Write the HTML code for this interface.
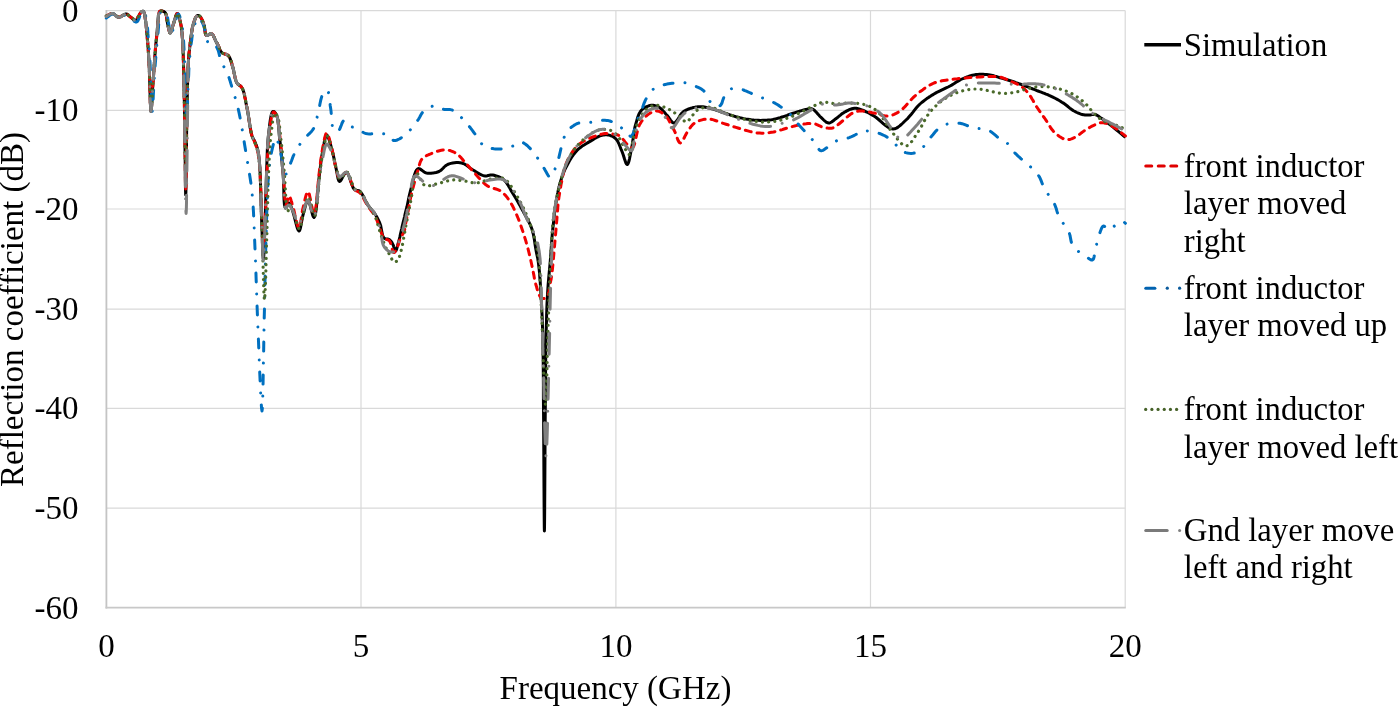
<!DOCTYPE html>
<html><head><meta charset="utf-8"><title>Reflection coefficient chart</title>
<style>html,body{margin:0;padding:0;background:#fff;}body{width:1400px;height:710px;overflow:hidden;}svg{display:block;will-change:transform;}</style>
</head><body>
<svg width="1400" height="710" viewBox="0 0 1400 710">
<rect width="1400" height="710" fill="#fff"/>
<line x1="106.4" y1="10.6" x2="1125.2" y2="10.6" stroke="#d9d9d9" stroke-width="1.2"/>
<line x1="106.4" y1="110.3" x2="1125.2" y2="110.3" stroke="#d9d9d9" stroke-width="1.2"/>
<line x1="106.4" y1="209.0" x2="1125.2" y2="209.0" stroke="#d9d9d9" stroke-width="1.2"/>
<line x1="106.4" y1="309.2" x2="1125.2" y2="309.2" stroke="#d9d9d9" stroke-width="1.2"/>
<line x1="106.4" y1="408.4" x2="1125.2" y2="408.4" stroke="#d9d9d9" stroke-width="1.2"/>
<line x1="106.4" y1="508.1" x2="1125.2" y2="508.1" stroke="#d9d9d9" stroke-width="1.2"/>
<line x1="361.0" y1="10.6" x2="361.0" y2="607.6" stroke="#d9d9d9" stroke-width="1.2"/>
<line x1="615.9" y1="10.6" x2="615.9" y2="607.6" stroke="#d9d9d9" stroke-width="1.2"/>
<line x1="870.5" y1="10.6" x2="870.5" y2="607.6" stroke="#d9d9d9" stroke-width="1.2"/>
<line x1="1125.2" y1="10.6" x2="1125.2" y2="607.6" stroke="#d9d9d9" stroke-width="1.2"/>
<line x1="106.4" y1="10.0" x2="106.4" y2="608.5" stroke="#c4c4c4" stroke-width="1.8"/>
<line x1="105.5" y1="607.6" x2="1125.8" y2="607.6" stroke="#c8c8c8" stroke-width="1.8"/>
<text x="78.4" y="21.6" text-anchor="end" style="font-family:'Liberation Serif',serif;font-size:33px;fill:#000">0</text>
<text x="78.4" y="121.3" text-anchor="end" style="font-family:'Liberation Serif',serif;font-size:33px;fill:#000">-10</text>
<text x="78.4" y="220.0" text-anchor="end" style="font-family:'Liberation Serif',serif;font-size:33px;fill:#000">-20</text>
<text x="78.4" y="320.2" text-anchor="end" style="font-family:'Liberation Serif',serif;font-size:33px;fill:#000">-30</text>
<text x="78.4" y="419.4" text-anchor="end" style="font-family:'Liberation Serif',serif;font-size:33px;fill:#000">-40</text>
<text x="78.4" y="519.1" text-anchor="end" style="font-family:'Liberation Serif',serif;font-size:33px;fill:#000">-50</text>
<text x="78.4" y="618.7" text-anchor="end" style="font-family:'Liberation Serif',serif;font-size:33px;fill:#000">-60</text>
<text x="106.4" y="657" text-anchor="middle" style="font-family:'Liberation Serif',serif;font-size:33px;fill:#000">0</text>
<text x="361.0" y="657" text-anchor="middle" style="font-family:'Liberation Serif',serif;font-size:33px;fill:#000">5</text>
<text x="615.9" y="657" text-anchor="middle" style="font-family:'Liberation Serif',serif;font-size:33px;fill:#000">10</text>
<text x="870.5" y="657" text-anchor="middle" style="font-family:'Liberation Serif',serif;font-size:33px;fill:#000">15</text>
<text x="1125.2" y="657" text-anchor="middle" style="font-family:'Liberation Serif',serif;font-size:33px;fill:#000">20</text>
<text x="615.5" y="699" text-anchor="middle" style="font-family:'Liberation Serif',serif;font-size:33px;fill:#000">Frequency (GHz)</text>
<text transform="translate(23,309.5) rotate(-90)" text-anchor="middle" style="font-family:'Liberation Serif',serif;font-size:33px;fill:#000">Reflection coefficient (dB)</text>
<g fill="none" stroke-linejoin="round">
<path d="M106.3,16.5 107.1,16.1 107.9,15.6 108.7,15.1 109.5,14.6 110.3,14.1 111.1,13.8 111.9,13.5 112.7,13.5 113.5,13.7 114.2,14.1 114.9,14.7 115.6,15.4 116.3,16.1 117.1,16.7 117.8,17.1 118.6,17.3 119.5,17.2 120.5,16.8 121.5,16.3 122.5,15.6 123.5,15.0 124.4,14.5 125.4,14.1 126.2,14.0 126.8,14.1 127.3,14.4 127.9,14.7 128.4,15.1 128.9,15.6 129.4,16.0 129.9,16.5 130.4,16.9 131.0,17.4 131.7,18.0 132.3,18.6 133.0,19.2 133.6,19.8 134.3,20.2 134.9,20.5 135.5,20.5 136.2,20.1 136.9,19.4 137.6,18.3 138.2,17.1 138.9,15.8 139.5,14.6 140.1,13.6 140.6,12.8 140.9,12.5 141.1,12.3 141.4,12.0 141.6,11.8 141.8,11.6 142.1,11.5 142.3,11.4 142.5,11.3 142.6,11.3 142.8,11.2 142.9,11.2 143.1,11.2 143.2,11.3 143.3,11.3 143.5,11.4 143.6,11.5 143.9,12.0 144.2,12.9 144.5,14.0 144.8,15.2 145.0,16.6 145.2,18.1 145.4,19.6 145.6,21.0 145.9,22.9 146.1,24.8 146.3,26.9 146.5,29.0 146.7,31.2 146.9,33.4 147.1,35.7 147.3,38.0 147.5,40.7 147.8,43.5 148.0,46.3 148.2,49.2 148.4,52.2 148.6,55.3 148.8,58.6 149.0,62.0 149.3,68.0 149.5,75.4 149.8,83.6 150.0,91.8 150.2,99.4 150.5,105.7 150.7,109.9 151.0,111.5 151.2,110.6 151.5,108.0 151.8,104.3 152.1,99.6 152.4,94.5 152.6,89.3 152.9,84.3 153.2,80.0 153.5,76.3 153.7,72.5 154.0,68.7 154.2,65.0 154.5,61.3 154.8,57.7 155.0,54.1 155.3,50.7 155.5,47.9 155.8,45.1 156.0,42.4 156.3,39.7 156.6,37.1 156.8,34.6 157.1,32.1 157.3,29.6 157.5,27.4 157.6,25.2 157.8,23.0 158.0,20.9 158.1,18.8 158.3,16.9 158.5,15.3 158.8,14.0 158.9,13.5 159.0,13.1 159.1,12.6 159.3,12.3 159.4,11.9 159.6,11.6 159.8,11.4 160.0,11.2 160.3,11.1 160.6,11.0 161.0,10.9 161.4,10.9 161.8,10.9 162.2,11.0 162.6,11.1 163.0,11.2 163.3,11.3 163.7,11.5 164.0,11.6 164.3,11.8 164.7,12.0 165.0,12.3 165.2,12.6 165.5,13.0 165.9,13.9 166.2,15.0 166.5,16.4 166.7,17.8 166.9,19.3 167.1,20.9 167.3,22.3 167.6,23.7 167.9,25.0 168.2,26.5 168.5,28.1 168.8,29.5 169.2,30.9 169.5,32.0 169.8,32.7 170.2,33.0 170.6,32.7 171.0,32.0 171.4,30.9 171.8,29.6 172.2,28.0 172.6,26.5 173.1,25.0 173.5,23.7 174.0,22.3 174.4,20.7 174.9,19.0 175.4,17.3 175.9,15.8 176.4,14.6 176.8,13.8 177.3,13.5 177.8,13.8 178.2,14.6 178.7,15.8 179.1,17.2 179.6,18.8 180.0,20.5 180.4,22.2 180.7,23.7 181.0,25.3 181.3,26.8 181.5,28.4 181.7,30.0 181.9,31.7 182.1,33.6 182.2,35.7 182.4,38.0 182.8,44.3 183.1,52.0 183.4,60.7 183.7,70.2 183.9,80.1 184.1,90.3 184.3,100.3 184.5,110.0 184.7,121.4 184.9,134.7 185.0,148.8 185.2,162.7 185.3,175.3 185.4,185.5 185.6,192.5 185.7,195.0 185.9,192.4 186.0,185.2 186.1,174.6 186.3,161.7 186.5,147.7 186.6,133.7 186.8,120.7 187.0,110.0 187.2,102.9 187.3,96.0 187.4,89.2 187.6,82.6 187.8,76.3 188.0,70.4 188.2,65.0 188.5,60.0 188.7,57.3 188.9,54.8 189.1,52.6 189.4,50.4 189.6,48.3 189.9,46.2 190.1,44.2 190.4,42.0 190.7,39.9 190.9,37.7 191.2,35.5 191.5,33.4 191.8,31.2 192.1,29.2 192.5,27.2 193.0,25.4 193.4,23.9 193.9,22.4 194.4,20.8 194.9,19.4 195.4,18.0 196.0,16.9 196.6,16.1 197.2,15.6 197.5,15.5 197.9,15.5 198.2,15.5 198.6,15.6 199.0,15.8 199.3,16.0 199.7,16.2 200.0,16.5 200.6,17.1 201.1,18.0 201.7,19.0 202.2,20.1 202.7,21.3 203.1,22.6 203.6,23.8 204.0,25.0 204.4,26.3 204.6,27.9 204.8,29.5 205.0,31.1 205.2,32.6 205.5,33.9 205.8,34.9 206.4,35.5 206.9,35.6 207.5,35.4 208.2,35.1 208.9,34.6 209.6,34.1 210.3,33.8 210.9,33.6 211.5,33.6 212.2,34.1 212.8,34.8 213.4,35.8 214.0,37.0 214.5,38.3 215.1,39.5 215.5,40.6 216.0,41.5 216.3,42.0 216.5,42.4 216.8,42.9 217.0,43.3 217.3,43.6 217.5,44.1 217.7,44.5 218.0,45.0 218.4,45.8 218.8,46.7 219.1,47.7 219.5,48.8 220.0,49.8 220.4,50.8 221.0,51.6 221.6,52.4 222.3,53.0 223.1,53.4 224.0,53.7 225.0,54.0 225.9,54.2 226.8,54.6 227.7,55.1 228.4,55.7 229.2,56.8 229.9,58.1 230.5,59.6 231.1,61.2 231.6,62.9 232.0,64.6 232.5,66.3 233.0,68.0 233.5,69.8 233.9,71.8 234.3,73.8 234.7,75.9 235.1,77.8 235.6,79.7 236.1,81.4 236.8,82.8 237.4,83.6 238.0,84.2 238.7,84.8 239.4,85.2 240.1,85.7 240.8,86.3 241.4,87.0 242.0,87.8 242.9,89.6 243.6,91.7 244.3,94.1 244.8,96.8 245.4,99.5 245.9,102.4 246.4,105.2 247.0,108.0 247.7,111.4 248.3,115.2 248.9,119.1 249.5,123.0 250.0,126.8 250.7,130.4 251.3,133.5 252.0,136.0 252.4,137.0 252.7,137.8 253.1,138.5 253.5,139.2 253.9,139.8 254.3,140.5 254.6,141.2 255.0,142.0 255.5,143.1 255.9,144.3 256.4,145.4 256.8,146.6 257.2,148.0 257.6,149.5 258.0,151.1 258.4,153.0 259.2,159.1 259.8,167.2 260.3,176.5 260.6,186.7 260.9,197.2 261.2,207.4 261.5,216.8 261.8,225.0 262.0,230.3 262.2,236.0 262.4,241.7 262.6,247.0 262.8,251.8 263.0,255.6 263.2,258.1 263.4,259.0 263.6,258.0 263.8,255.4 264.0,251.4 264.2,246.5 264.4,241.1 264.6,235.4 264.8,229.9 265.0,225.0 265.2,219.7 265.3,214.2 265.5,208.6 265.6,202.9 265.8,197.2 265.9,191.4 266.1,185.7 266.3,180.0 266.5,174.3 266.7,168.4 266.9,162.5 267.1,156.6 267.3,150.8 267.6,145.2 268.0,139.9 268.5,135.0 268.9,131.4 269.4,127.5 269.8,123.7 270.3,120.0 270.9,116.7 271.5,114.1 272.2,112.2 273.0,111.4 273.4,111.4 273.8,111.5 274.3,111.8 274.7,112.3 275.2,112.8 275.6,113.4 276.0,114.1 276.4,114.8 277.1,116.7 277.7,119.2 278.1,122.2 278.5,125.4 278.8,128.9 279.1,132.5 279.4,136.1 279.8,139.6 280.3,143.8 280.7,148.2 281.2,152.7 281.6,157.3 282.0,162.0 282.4,166.7 282.8,171.2 283.2,175.7 283.5,180.2 283.7,185.3 283.8,190.6 283.9,195.8 284.1,200.5 284.4,204.3 284.9,206.9 285.5,208.0 285.8,207.8 286.2,207.3 286.6,206.5 287.1,205.6 287.5,204.6 288.0,203.8 288.4,203.2 288.8,203.0 289.2,203.2 289.7,203.7 290.1,204.4 290.5,205.2 290.9,206.3 291.3,207.4 291.8,208.5 292.2,209.6 293.0,212.0 293.9,215.1 294.8,218.6 295.7,222.2 296.6,225.6 297.4,228.4 298.3,230.3 299.0,231.0 299.6,230.5 300.1,229.2 300.6,227.3 301.0,224.9 301.5,222.3 302.0,219.7 302.5,217.2 303.0,215.0 303.6,212.9 304.2,210.6 304.8,208.2 305.4,205.9 306.0,203.8 306.7,202.1 307.3,200.9 308.0,200.5 308.7,201.2 309.5,203.2 310.3,205.9 311.1,209.1 311.9,212.2 312.6,214.9 313.3,216.8 314.0,217.5 314.9,216.1 315.7,212.6 316.4,207.3 317.0,201.0 317.6,194.2 318.2,187.3 318.7,181.0 319.3,175.7 319.7,172.3 320.2,168.9 320.5,165.7 320.9,162.6 321.3,159.6 321.7,156.6 322.2,153.8 322.7,151.0 323.1,148.6 323.6,146.0 324.1,143.3 324.5,140.8 325.1,138.5 325.6,136.7 326.1,135.5 326.7,135.0 327.3,135.4 327.9,136.4 328.5,138.0 329.2,139.9 329.9,142.1 330.5,144.4 331.1,146.7 331.7,148.7 332.3,151.1 332.9,153.6 333.5,156.2 334.1,158.9 334.6,161.6 335.1,164.2 335.7,166.7 336.2,169.0 336.6,170.9 337.0,172.9 337.3,174.9 337.7,176.8 338.0,178.6 338.5,180.0 339.0,181.0 339.6,181.4 340.3,181.1 341.1,180.1 341.9,178.6 342.8,176.9 343.7,175.2 344.7,173.7 345.6,172.6 346.4,172.3 347.4,173.0 348.4,174.7 349.3,177.0 350.2,179.8 351.2,182.7 352.2,185.5 353.2,187.8 354.3,189.3 355.0,189.8 355.7,190.1 356.4,190.3 357.1,190.4 357.9,190.6 358.6,190.7 359.3,191.0 360.0,191.5 361.0,192.6 362.0,194.1 363.0,195.8 364.0,197.7 364.9,199.6 365.8,201.6 366.8,203.4 367.8,205.0 368.7,206.2 369.6,207.4 370.6,208.5 371.5,209.6 372.4,210.7 373.3,211.7 374.2,212.8 375.0,214.0 375.7,215.2 376.4,216.3 377.1,217.5 377.7,218.6 378.3,219.8 378.9,221.1 379.5,222.4 380.0,223.7 380.6,225.4 381.0,227.4 381.4,229.5 381.8,231.6 382.2,233.6 382.6,235.4 383.2,236.9 384.0,238.0 384.6,238.4 385.2,238.7 385.9,238.9 386.6,239.0 387.4,239.0 388.1,239.1 388.7,239.3 389.3,239.6 389.8,240.0 390.3,240.5 390.8,241.0 391.2,241.5 391.6,242.1 392.0,242.7 392.3,243.4 392.7,244.0 393.1,244.9 393.5,245.9 393.8,247.1 394.2,248.3 394.5,249.3 394.8,250.2 395.2,250.8 395.5,251.0 395.9,250.8 396.2,250.2 396.6,249.3 396.9,248.2 397.2,247.0 397.6,245.6 397.9,244.3 398.3,243.0 398.8,241.0 399.4,238.8 400.0,236.4 400.5,233.9 401.1,231.4 401.7,228.8 402.2,226.3 402.8,223.8 403.4,221.4 404.0,219.0 404.6,216.5 405.1,214.1 405.7,211.7 406.3,209.3 406.9,207.0 407.4,204.7 407.8,202.8 408.2,200.9 408.6,199.2 408.9,197.4 409.3,195.6 409.7,193.8 410.2,191.9 410.7,190.0 411.4,187.3 412.1,184.1 412.9,180.8 413.7,177.5 414.6,174.4 415.6,171.7 416.7,169.8 418.0,168.7 418.9,168.6 419.9,168.9 420.9,169.5 421.9,170.3 423.0,171.1 424.2,172.0 425.3,172.6 426.5,173.0 427.9,173.2 429.5,173.3 431.1,173.2 432.8,173.1 434.4,172.8 436.0,172.5 437.6,172.0 439.0,171.5 440.2,170.8 441.3,170.0 442.3,169.0 443.3,168.0 444.2,167.0 445.3,166.0 446.4,165.2 447.6,164.5 449.2,163.9 450.9,163.4 452.7,163.0 454.5,162.8 456.4,162.6 458.2,162.6 460.0,162.7 461.7,163.0 463.2,163.5 464.7,164.2 466.1,165.1 467.5,166.0 468.9,167.1 470.2,168.1 471.6,169.1 473.0,170.0 474.4,170.8 475.8,171.7 477.1,172.6 478.5,173.4 479.9,174.2 481.3,174.9 482.7,175.4 484.0,175.8 485.1,175.9 486.2,175.9 487.3,175.7 488.3,175.4 489.4,175.2 490.5,175.0 491.6,174.9 492.7,175.0 494.1,175.3 495.5,175.7 497.0,176.1 498.5,176.7 500.0,177.4 501.4,178.2 502.7,179.0 504.0,180.0 505.3,181.2 506.4,182.6 507.4,184.1 508.4,185.7 509.4,187.4 510.3,189.1 511.3,190.9 512.4,192.7 513.8,195.0 515.2,197.3 516.7,199.8 518.1,202.3 519.6,204.9 521.0,207.5 522.4,210.0 523.7,212.4 524.9,214.5 526.0,216.6 527.1,218.7 528.2,220.8 529.3,222.8 530.3,224.9 531.2,227.1 532.0,229.3 532.7,231.8 533.4,234.4 533.9,237.1 534.4,239.8 534.8,242.5 535.2,245.2 535.6,247.7 536.0,250.0 536.3,251.6 536.6,253.1 536.9,254.6 537.2,256.0 537.5,257.4 537.8,258.8 538.0,260.3 538.3,262.0 538.6,264.5 538.9,267.0 539.2,269.7 539.5,272.5 539.7,275.5 539.9,278.5 540.2,281.7 540.4,285.0 540.7,289.8 541.0,294.8 541.3,300.1 541.6,305.6 541.9,311.3 542.2,317.3 542.4,323.5 542.6,330.0 542.8,339.7 543.0,350.1 543.2,361.1 543.3,372.5 543.4,384.2 543.4,396.1 543.5,408.1 543.6,420.0 543.7,434.8 543.8,452.1 543.9,470.5 544.0,488.6 544.1,505.1 544.2,518.6 544.3,527.7 544.4,531.0 544.5,527.6 544.6,518.4 544.7,504.8 544.8,488.2 544.9,470.1 545.0,451.7 545.1,434.5 545.2,420.0 545.3,409.2 545.4,398.6 545.4,388.1 545.5,377.9 545.6,367.9 545.7,358.2 545.8,348.9 546.0,340.0 546.1,333.5 546.3,327.2 546.5,321.2 546.6,315.3 546.8,309.6 547.0,304.0 547.3,298.5 547.6,293.0 547.9,288.3 548.2,283.8 548.6,279.3 549.0,274.9 549.4,270.5 549.8,266.3 550.2,262.1 550.5,258.0 550.8,254.6 551.0,251.2 551.2,248.0 551.5,244.8 551.7,241.6 551.9,238.4 552.2,235.2 552.5,232.0 552.8,228.7 553.2,225.3 553.6,221.8 553.9,218.4 554.3,215.0 554.7,211.8 555.1,208.8 555.5,206.0 555.7,204.3 556.0,202.7 556.2,201.2 556.4,199.8 556.7,198.4 556.9,196.9 557.2,195.5 557.5,194.0 557.9,192.3 558.2,190.5 558.6,188.8 559.1,187.0 559.5,185.2 560.0,183.5 560.5,181.7 561.0,180.0 561.5,178.4 562.1,176.8 562.6,175.2 563.2,173.7 563.8,172.1 564.5,170.5 565.2,168.9 566.0,167.3 567.1,165.2 568.3,163.0 569.5,160.8 570.9,158.5 572.3,156.3 573.8,154.2 575.4,152.2 577.0,150.4 578.6,148.9 580.4,147.5 582.2,146.1 584.1,144.9 586.0,143.7 587.9,142.6 589.6,141.6 591.3,140.6 592.5,139.9 593.6,139.2 594.7,138.5 595.8,137.9 596.8,137.3 597.9,136.8 598.9,136.3 600.0,135.9 601.0,135.6 602.0,135.3 603.0,135.1 604.0,134.9 605.0,134.8 605.9,134.8 606.9,134.8 607.9,134.9 608.9,135.1 610.0,135.4 611.0,135.8 612.0,136.2 613.1,136.7 614.0,137.3 614.9,138.0 615.8,138.8 616.7,139.9 617.6,141.2 618.3,142.6 619.1,144.2 619.7,145.8 620.4,147.5 621.0,149.1 621.7,150.7 622.4,152.6 623.2,154.7 623.9,157.0 624.6,159.3 625.3,161.3 625.9,163.0 626.6,164.1 627.2,164.5 627.8,164.0 628.4,162.8 629.0,161.0 629.5,158.8 630.0,156.2 630.5,153.6 631.0,151.0 631.5,148.7 632.0,145.9 632.5,143.0 632.9,139.9 633.4,136.8 633.8,133.7 634.3,130.6 634.8,127.7 635.5,125.0 636.1,122.9 636.7,120.8 637.3,118.8 637.9,116.8 638.6,114.9 639.4,113.2 640.3,111.7 641.4,110.3 642.4,109.3 643.6,108.4 644.8,107.6 646.1,106.9 647.5,106.3 648.8,105.8 650.1,105.5 651.3,105.3 652.3,105.2 653.3,105.3 654.3,105.4 655.2,105.7 656.2,106.0 657.2,106.4 658.1,106.8 659.0,107.3 660.1,108.0 661.1,108.8 662.1,109.8 663.1,110.9 664.1,112.0 665.1,113.1 666.0,114.2 667.0,115.2 667.9,116.3 668.8,117.5 669.7,118.8 670.5,120.1 671.4,121.2 672.2,122.2 673.1,122.8 674.0,123.0 675.1,122.6 676.1,121.6 677.2,120.2 678.3,118.5 679.4,116.7 680.5,114.9 681.6,113.4 682.8,112.2 683.7,111.5 684.7,110.9 685.6,110.3 686.6,109.8 687.6,109.4 688.6,109.0 689.6,108.6 690.7,108.3 691.9,108.0 693.0,107.6 694.3,107.4 695.5,107.1 696.8,107.0 698.0,106.8 699.3,106.7 700.5,106.7 701.7,106.7 703.0,106.8 704.2,107.0 705.4,107.2 706.6,107.4 707.9,107.7 709.1,108.0 710.4,108.3 711.8,108.7 713.3,109.1 714.7,109.6 716.1,110.1 717.6,110.6 719.1,111.1 720.6,111.7 722.2,112.2 724.1,112.8 726.0,113.5 727.9,114.1 729.9,114.8 732.0,115.5 734.0,116.1 736.0,116.7 738.0,117.2 740.0,117.7 741.9,118.1 743.9,118.6 745.8,119.0 747.8,119.3 749.8,119.6 751.8,119.9 753.8,120.1 756.0,120.2 758.3,120.3 760.6,120.4 762.9,120.3 765.2,120.2 767.4,120.1 769.5,119.9 771.5,119.7 772.9,119.5 774.2,119.2 775.4,118.9 776.6,118.6 777.8,118.3 778.9,117.9 780.1,117.6 781.4,117.2 782.8,116.8 784.2,116.3 785.7,115.8 787.1,115.3 788.6,114.7 790.1,114.2 791.6,113.7 793.2,113.2 795.1,112.6 797.2,111.9 799.4,111.3 801.6,110.6 803.7,110.0 805.7,109.5 807.5,109.1 809.0,108.9 809.6,108.8 810.2,108.8 810.7,108.8 811.1,108.8 811.6,108.8 812.0,108.9 812.5,109.1 813.0,109.3 813.9,109.9 814.8,110.7 815.8,111.7 816.8,112.8 817.8,114.0 818.8,115.1 819.8,116.2 820.8,117.2 821.8,118.1 822.7,119.0 823.7,120.0 824.7,120.9 825.7,121.7 826.7,122.4 827.7,122.8 828.7,123.0 829.7,122.9 830.6,122.5 831.6,122.0 832.6,121.3 833.6,120.5 834.6,119.7 835.5,118.9 836.5,118.2 837.5,117.5 838.5,116.7 839.4,115.9 840.4,115.1 841.3,114.3 842.3,113.6 843.3,112.9 844.4,112.2 845.6,111.6 846.8,110.9 848.0,110.3 849.3,109.7 850.6,109.2 851.9,108.8 853.1,108.5 854.3,108.3 855.3,108.3 856.2,108.3 857.2,108.5 858.1,108.7 859.1,109.0 860.0,109.3 861.0,109.6 862.0,110.0 863.4,110.5 864.8,111.1 866.2,111.8 867.7,112.5 869.2,113.3 870.8,114.2 872.4,115.1 874.0,116.0 876.2,117.5 878.6,119.5 881.0,121.6 883.5,123.8 886.0,125.8 888.4,127.4 890.8,128.6 893.0,129.0 894.7,128.8 896.4,128.1 898.1,127.1 899.7,125.9 901.3,124.5 902.9,123.0 904.4,121.5 906.0,120.0 907.8,118.3 909.5,116.3 911.3,114.2 913.0,112.1 914.7,109.9 916.4,107.8 918.2,105.8 920.0,104.0 921.7,102.5 923.4,101.2 925.1,99.9 926.8,98.6 928.6,97.4 930.4,96.3 932.2,95.1 934.0,94.0 935.9,92.9 937.9,91.8 940.0,90.8 942.0,89.9 944.1,88.9 946.1,87.9 948.1,87.0 950.0,86.0 951.6,85.1 953.1,84.2 954.6,83.3 956.0,82.3 957.5,81.4 958.9,80.6 960.4,79.7 962.0,79.0 963.7,78.3 965.4,77.6 967.1,76.9 968.9,76.3 970.7,75.8 972.4,75.3 974.2,74.9 976.0,74.6 977.8,74.4 979.5,74.3 981.3,74.3 983.1,74.3 984.9,74.4 986.7,74.6 988.4,74.8 990.0,75.0 991.3,75.2 992.6,75.5 993.8,75.8 995.0,76.2 996.2,76.5 997.5,76.9 998.7,77.3 1000.0,77.7 1001.5,78.1 1003.1,78.6 1004.7,79.0 1006.3,79.5 1007.9,80.0 1009.5,80.5 1011.1,81.0 1012.7,81.5 1014.3,82.0 1015.9,82.6 1017.4,83.1 1019.0,83.7 1020.6,84.2 1022.2,84.8 1023.7,85.4 1025.3,86.0 1026.9,86.6 1028.5,87.2 1030.1,87.8 1031.7,88.5 1033.2,89.1 1034.8,89.7 1036.4,90.4 1038.0,91.0 1039.6,91.6 1041.2,92.2 1042.8,92.8 1044.4,93.4 1046.0,94.1 1047.6,94.7 1049.1,95.4 1050.7,96.1 1052.3,96.9 1053.9,97.7 1055.6,98.5 1057.2,99.4 1058.8,100.3 1060.4,101.2 1061.9,102.2 1063.4,103.1 1064.7,104.0 1066.0,105.0 1067.3,106.0 1068.6,107.1 1069.8,108.1 1071.0,109.0 1072.2,109.9 1073.5,110.7 1074.6,111.3 1075.7,111.9 1076.9,112.5 1078.0,113.0 1079.1,113.4 1080.3,113.9 1081.3,114.2 1082.4,114.5 1083.2,114.7 1084.0,114.8 1084.8,114.9 1085.6,115.0 1086.4,115.1 1087.1,115.1 1087.9,115.1 1088.7,115.1 1089.5,115.1 1090.3,114.9 1091.1,114.8 1091.9,114.6 1092.7,114.5 1093.5,114.4 1094.2,114.4 1095.0,114.5 1095.8,114.7 1096.6,115.1 1097.4,115.5 1098.2,116.0 1098.9,116.5 1099.7,117.1 1100.5,117.7 1101.4,118.3 1102.6,119.1 1103.8,119.9 1105.0,120.9 1106.2,121.8 1107.5,122.8 1108.8,123.8 1110.2,124.8 1111.5,125.9 1113.1,127.2 1114.8,128.6 1116.6,130.0 1118.3,131.4 1120.1,132.9 1121.9,134.4 1123.6,135.9 1125.4,137.3" stroke="#000" stroke-width="3"/>
<path d="M106.3,16.0 107.1,15.6 107.9,15.2 108.7,14.8 109.5,14.4 110.3,14.0 111.1,13.7 111.9,13.5 112.7,13.5 113.5,13.7 114.2,14.1 114.9,14.6 115.6,15.2 116.3,15.9 117.1,16.4 117.8,16.8 118.6,17.0 119.5,16.9 120.5,16.6 121.5,16.1 122.5,15.5 123.5,14.9 124.5,14.4 125.4,14.1 126.2,14.0 126.8,14.2 127.3,14.4 127.9,14.8 128.4,15.2 128.8,15.7 129.3,16.2 129.9,16.6 130.4,17.0 131.0,17.4 131.6,17.8 132.3,18.3 133.0,18.7 133.6,19.1 134.3,19.4 134.9,19.5 135.5,19.5 136.2,19.1 136.9,18.5 137.6,17.5 138.3,16.5 138.9,15.4 139.5,14.4 140.1,13.5 140.6,12.8 140.9,12.5 141.1,12.3 141.4,12.0 141.6,11.8 141.8,11.6 142.1,11.5 142.3,11.4 142.5,11.3 142.6,11.3 142.8,11.2 142.9,11.2 143.1,11.2 143.2,11.3 143.3,11.3 143.5,11.4 143.6,11.5 143.9,12.0 144.2,12.9 144.5,14.0 144.8,15.2 145.0,16.6 145.2,18.1 145.4,19.6 145.6,21.0 145.9,22.9 146.1,24.8 146.3,26.9 146.5,29.0 146.7,31.2 146.9,33.4 147.1,35.7 147.3,38.0 147.5,40.7 147.8,43.5 148.0,46.3 148.2,49.2 148.4,52.2 148.6,55.3 148.8,58.6 149.0,62.0 149.3,67.9 149.5,75.1 149.7,83.0 150.0,91.0 150.2,98.3 150.4,104.4 150.7,108.5 151.0,110.0 151.2,109.1 151.5,106.7 151.8,103.1 152.1,98.7 152.4,93.9 152.6,88.9 152.9,84.1 153.2,80.0 153.5,76.3 153.7,72.5 154.0,68.8 154.2,65.0 154.5,61.3 154.8,57.7 155.0,54.1 155.3,50.7 155.5,47.9 155.8,45.1 156.0,42.4 156.3,39.7 156.6,37.1 156.8,34.6 157.1,32.1 157.3,29.6 157.5,27.4 157.6,25.2 157.8,23.0 158.0,20.9 158.1,18.8 158.3,16.9 158.5,15.3 158.8,14.0 158.9,13.5 159.0,13.1 159.1,12.6 159.3,12.3 159.4,11.9 159.6,11.6 159.8,11.4 160.0,11.2 160.3,11.1 160.6,11.0 161.0,10.9 161.4,10.9 161.8,10.9 162.2,11.0 162.6,11.1 163.0,11.2 163.3,11.3 163.7,11.5 164.0,11.6 164.3,11.8 164.7,12.0 165.0,12.3 165.2,12.6 165.5,13.0 165.9,13.9 166.2,15.0 166.5,16.4 166.7,17.8 166.9,19.3 167.1,20.9 167.3,22.3 167.6,23.7 167.9,25.0 168.2,26.5 168.5,28.1 168.8,29.5 169.2,30.9 169.5,32.0 169.8,32.7 170.2,33.0 170.6,32.7 171.0,32.0 171.4,30.9 171.8,29.6 172.2,28.0 172.6,26.5 173.1,25.0 173.5,23.7 174.0,22.3 174.4,20.7 174.9,19.0 175.4,17.3 175.9,15.8 176.4,14.6 176.8,13.8 177.3,13.5 177.8,13.8 178.2,14.6 178.7,15.8 179.1,17.2 179.6,18.8 180.0,20.5 180.4,22.2 180.7,23.7 181.0,25.3 181.3,26.8 181.5,28.4 181.7,30.0 181.9,31.7 182.1,33.6 182.2,35.7 182.4,38.0 182.8,44.3 183.1,52.0 183.4,60.8 183.7,70.3 183.9,80.3 184.1,90.5 184.3,100.5 184.5,110.0 184.7,120.8 184.9,133.2 185.0,146.3 185.2,159.1 185.3,170.8 185.4,180.3 185.6,186.7 185.7,189.0 185.9,186.6 186.0,179.9 186.2,170.2 186.3,158.3 186.5,145.3 186.6,132.2 186.8,120.1 187.0,110.0 187.2,103.0 187.3,96.1 187.4,89.3 187.6,82.7 187.8,76.4 188.0,70.5 188.2,65.0 188.5,60.0 188.7,57.3 188.9,54.8 189.1,52.6 189.4,50.4 189.6,48.3 189.9,46.2 190.1,44.2 190.4,42.0 190.7,39.9 190.9,37.7 191.2,35.5 191.5,33.4 191.8,31.2 192.1,29.2 192.5,27.2 193.0,25.4 193.4,23.9 193.9,22.4 194.4,20.8 194.9,19.4 195.4,18.0 196.0,16.9 196.6,16.1 197.2,15.6 197.5,15.5 197.9,15.5 198.2,15.5 198.6,15.6 199.0,15.8 199.3,16.0 199.7,16.2 200.0,16.5 200.6,17.1 201.1,18.0 201.7,19.0 202.2,20.1 202.7,21.3 203.1,22.6 203.6,23.8 204.0,25.0 204.4,26.3 204.6,27.9 204.8,29.5 205.0,31.1 205.2,32.6 205.5,33.9 205.8,34.9 206.4,35.5 206.9,35.6 207.5,35.4 208.2,35.1 208.9,34.6 209.6,34.1 210.3,33.8 210.9,33.6 211.5,33.6 212.2,34.1 212.8,34.8 213.4,35.8 214.0,37.0 214.5,38.3 215.1,39.5 215.5,40.6 216.0,41.5 216.3,42.0 216.5,42.4 216.8,42.9 217.0,43.3 217.3,43.6 217.5,44.1 217.7,44.5 218.0,45.0 218.4,45.8 218.8,46.7 219.1,47.7 219.5,48.8 220.0,49.8 220.4,50.8 221.0,51.6 221.6,52.4 222.3,53.0 223.1,53.4 224.0,53.7 225.0,54.0 225.9,54.2 226.8,54.6 227.7,55.1 228.4,55.7 229.2,56.8 229.9,58.1 230.5,59.6 231.1,61.2 231.6,62.9 232.0,64.6 232.5,66.3 233.0,68.0 233.5,69.8 233.9,71.8 234.3,73.8 234.7,75.9 235.1,77.8 235.6,79.7 236.1,81.4 236.8,82.8 237.4,83.6 238.0,84.2 238.7,84.8 239.4,85.2 240.1,85.7 240.8,86.3 241.4,87.0 242.0,87.8 242.9,89.6 243.6,91.7 244.3,94.1 244.8,96.8 245.4,99.5 245.9,102.4 246.4,105.2 247.0,108.0 247.7,111.4 248.3,115.1 248.9,119.0 249.5,122.9 250.1,126.7 250.7,130.2 251.3,133.4 252.0,136.0 252.4,137.1 252.7,138.1 253.1,138.9 253.5,139.7 253.9,140.4 254.3,141.2 254.6,142.1 255.0,143.0 255.5,144.3 255.9,145.5 256.4,146.8 256.8,148.2 257.2,149.6 257.6,151.2 258.0,153.0 258.4,155.0 259.1,160.4 259.7,167.1 260.1,174.7 260.5,183.0 260.9,191.5 261.2,199.9 261.5,207.9 261.8,215.0 262.1,220.6 262.3,226.6 262.5,232.8 262.7,238.7 263.0,243.9 263.2,248.2 263.4,251.0 263.6,252.0 263.8,250.9 264.1,248.0 264.3,243.6 264.6,238.2 264.8,232.2 265.1,226.1 265.3,220.2 265.5,215.0 265.7,210.1 265.9,205.1 266.1,200.1 266.2,195.1 266.4,190.1 266.6,185.0 266.8,180.0 267.0,175.0 267.2,169.9 267.4,164.7 267.5,159.5 267.7,154.3 267.9,149.2 268.2,144.2 268.5,139.5 269.0,135.0 269.4,131.5 269.9,127.8 270.4,124.0 270.9,120.4 271.5,117.2 272.1,114.5 272.8,112.8 273.5,112.0 273.9,112.1 274.3,112.3 274.8,112.8 275.3,113.5 275.7,114.3 276.2,115.2 276.6,116.1 277.0,117.0 277.6,119.0 278.2,121.4 278.6,124.1 279.0,127.1 279.3,130.2 279.6,133.5 279.9,136.8 280.3,140.0 280.7,144.0 281.2,148.3 281.6,152.7 282.0,157.2 282.4,161.7 282.8,166.3 283.1,170.7 283.5,175.0 283.8,179.3 284.1,184.0 284.3,189.0 284.6,193.8 284.8,198.2 285.1,201.7 285.5,204.1 286.0,205.0 286.3,204.6 286.7,203.6 287.0,202.2 287.4,200.5 287.8,198.9 288.2,197.4 288.6,196.4 289.0,196.0 289.4,196.2 289.8,196.9 290.3,197.9 290.7,199.1 291.1,200.5 291.6,202.0 292.0,203.5 292.5,205.0 293.3,207.7 294.1,211.1 294.9,214.9 295.8,218.7 296.7,222.3 297.5,225.3 298.3,227.3 299.0,228.0 299.6,227.4 300.1,225.7 300.6,223.3 301.0,220.3 301.5,217.1 301.9,213.8 302.4,210.7 303.0,208.0 303.6,205.6 304.2,203.0 304.8,200.2 305.4,197.6 306.1,195.2 306.7,193.3 307.4,192.0 308.0,191.5 308.8,192.5 309.5,195.0 310.3,198.7 311.1,202.8 311.9,206.9 312.6,210.5 313.3,213.1 314.0,214.0 314.8,212.6 315.6,209.1 316.3,203.8 316.9,197.5 317.5,190.5 318.1,183.6 318.7,177.3 319.3,172.0 319.7,168.6 320.1,165.4 320.5,162.3 320.9,159.2 321.3,156.3 321.7,153.4 322.2,150.7 322.7,148.0 323.1,145.7 323.6,143.3 324.1,140.8 324.6,138.4 325.1,136.3 325.6,134.6 326.1,133.4 326.7,133.0 327.3,133.4 327.9,134.6 328.6,136.3 329.2,138.4 329.9,140.8 330.5,143.3 331.1,145.8 331.7,148.0 332.3,150.5 332.9,153.2 333.5,156.0 334.0,158.8 334.5,161.6 335.1,164.3 335.6,166.8 336.2,169.0 336.6,170.4 336.9,171.9 337.3,173.3 337.6,174.7 338.0,175.9 338.5,176.9 339.0,177.6 339.6,178.0 340.3,177.9 341.1,177.2 341.9,176.3 342.9,175.1 343.8,174.0 344.7,173.1 345.6,172.4 346.4,172.3 347.5,173.1 348.5,174.8 349.4,177.1 350.4,179.8 351.3,182.6 352.2,185.3 353.2,187.6 354.3,189.3 355.0,190.0 355.7,190.5 356.4,190.9 357.1,191.2 357.9,191.5 358.6,191.9 359.3,192.4 360.0,193.0 361.0,194.2 362.0,195.7 363.0,197.3 363.9,199.1 364.9,200.9 365.9,202.7 366.8,204.4 367.8,206.0 368.7,207.3 369.6,208.6 370.6,209.8 371.5,211.0 372.5,212.2 373.4,213.4 374.2,214.7 375.0,216.0 375.8,217.5 376.4,219.1 377.1,220.8 377.7,222.5 378.3,224.2 378.8,225.9 379.4,227.5 380.0,229.0 380.5,230.2 380.9,231.5 381.4,232.8 381.8,234.0 382.3,235.1 382.8,236.2 383.3,237.2 384.0,238.0 384.6,238.5 385.3,238.9 386.0,239.2 386.7,239.5 387.5,239.7 388.2,240.0 388.9,240.4 389.5,241.0 390.2,242.2 390.8,243.8 391.4,245.7 391.9,247.6 392.3,249.5 392.8,251.0 393.3,252.1 393.8,252.6 394.2,252.5 394.6,252.2 395.0,251.7 395.4,251.1 395.8,250.3 396.2,249.5 396.6,248.8 397.0,248.0 397.5,246.9 397.9,245.7 398.4,244.4 398.8,243.1 399.2,241.7 399.6,240.4 400.0,239.2 400.5,238.0 400.9,237.1 401.4,236.3 401.8,235.6 402.3,234.9 402.8,234.1 403.2,233.4 403.6,232.6 404.0,231.7 404.4,230.6 404.7,229.4 404.9,228.2 405.1,226.9 405.3,225.6 405.5,224.3 405.8,222.9 406.0,221.6 406.3,220.1 406.6,218.6 406.9,217.0 407.2,215.4 407.6,213.8 407.9,212.2 408.2,210.6 408.5,209.0 408.8,207.4 409.1,205.9 409.4,204.3 409.6,202.8 409.9,201.2 410.2,199.6 410.6,197.8 411.0,196.0 411.7,193.1 412.5,189.9 413.4,186.4 414.3,182.8 415.3,179.3 416.2,175.9 417.2,172.8 418.0,170.0 418.5,168.4 418.9,166.8 419.3,165.3 419.7,163.8 420.1,162.5 420.6,161.2 421.2,160.1 422.0,159.0 422.8,158.1 423.8,157.3 424.8,156.6 425.9,156.0 427.0,155.4 428.2,154.9 429.4,154.3 430.7,153.8 432.3,153.1 434.0,152.5 435.8,151.8 437.6,151.2 439.5,150.7 441.3,150.3 443.1,150.0 444.8,149.9 446.3,150.0 447.8,150.2 449.2,150.4 450.7,150.8 452.1,151.3 453.4,151.9 454.7,152.5 456.0,153.2 457.2,154.0 458.3,154.9 459.4,155.9 460.4,157.0 461.4,158.1 462.4,159.3 463.4,160.5 464.5,161.7 465.8,163.2 467.2,164.7 468.6,166.3 470.0,167.9 471.5,169.6 472.9,171.2 474.4,172.8 475.8,174.4 477.2,175.9 478.5,177.4 479.8,178.9 481.2,180.4 482.6,181.8 484.0,183.2 485.4,184.5 487.0,185.6 488.6,186.5 490.4,187.3 492.2,187.9 494.1,188.5 496.0,189.0 497.8,189.6 499.5,190.4 501.0,191.3 502.3,192.3 503.5,193.3 504.6,194.5 505.7,195.6 506.7,196.9 507.7,198.2 508.6,199.6 509.6,201.0 510.8,202.8 511.9,204.8 513.0,206.8 514.0,208.9 515.0,211.1 516.0,213.3 517.0,215.6 518.0,218.0 519.2,220.9 520.3,224.0 521.4,227.2 522.5,230.4 523.6,233.7 524.6,237.0 525.6,240.2 526.5,243.4 527.3,246.3 528.1,249.2 528.8,252.0 529.5,254.9 530.1,257.7 530.8,260.5 531.4,263.3 532.0,266.0 532.5,268.5 533.0,271.0 533.5,273.4 534.0,275.9 534.4,278.3 534.9,280.6 535.4,282.9 536.0,285.0 536.5,286.7 537.0,288.5 537.5,290.3 538.0,291.9 538.6,293.5 539.2,294.9 539.8,296.1 540.5,297.0 540.9,297.4 541.3,297.7 541.8,298.0 542.2,298.2 542.7,298.4 543.1,298.5 543.6,298.5 544.0,298.5 544.5,298.4 544.9,298.3 545.4,298.0 545.9,297.7 546.3,297.4 546.7,297.0 547.1,296.5 547.5,296.0 548.0,294.9 548.4,293.6 548.8,292.1 549.1,290.4 549.3,288.7 549.5,287.0 549.7,285.4 550.0,284.0 550.2,283.1 550.4,282.4 550.6,281.6 550.7,280.9 550.9,280.2 551.1,279.4 551.2,278.5 551.4,277.5 551.8,274.7 552.2,271.3 552.6,267.5 553.0,263.3 553.4,259.0 553.8,254.6 554.1,250.4 554.5,246.5 554.8,243.1 555.1,239.6 555.4,236.2 555.7,232.9 556.0,229.6 556.3,226.3 556.5,223.1 556.8,220.0 557.0,217.4 557.2,214.8 557.4,212.3 557.6,209.8 557.8,207.4 558.0,204.9 558.3,202.5 558.6,200.0 558.9,197.5 559.3,194.9 559.7,192.4 560.1,189.8 560.6,187.3 561.0,184.8 561.5,182.4 562.0,180.0 562.4,177.9 562.8,175.9 563.2,173.9 563.6,171.9 564.1,169.9 564.6,167.9 565.2,166.0 566.0,164.0 567.0,161.7 568.1,159.3 569.4,156.9 570.8,154.5 572.2,152.2 573.7,150.0 575.3,148.0 577.0,146.2 578.6,144.8 580.2,143.5 581.9,142.3 583.7,141.3 585.5,140.3 587.3,139.4 589.2,138.5 591.0,137.7 592.7,137.0 594.6,136.3 596.4,135.6 598.3,135.0 600.1,134.5 601.8,134.1 603.5,133.7 605.0,133.5 606.0,133.4 606.8,133.4 607.7,133.4 608.5,133.5 609.3,133.6 610.1,133.7 610.9,133.9 611.8,134.0 612.8,134.1 613.8,134.3 614.8,134.4 615.8,134.6 616.8,134.8 617.8,135.0 618.8,135.4 619.7,135.9 620.8,136.7 621.8,137.7 622.8,139.0 623.8,140.2 624.8,141.6 625.7,142.8 626.7,143.9 627.6,144.8 628.2,145.4 628.9,145.9 629.5,146.5 630.1,147.0 630.8,147.4 631.4,147.7 631.9,147.8 632.5,147.7 633.5,146.6 634.4,144.5 635.2,141.5 635.9,138.1 636.7,134.4 637.5,130.8 638.3,127.6 639.4,125.0 640.3,123.5 641.2,122.0 642.1,120.7 643.1,119.4 644.1,118.2 645.1,117.1 646.2,116.1 647.3,115.2 648.3,114.4 649.4,113.6 650.5,112.9 651.6,112.3 652.8,111.7 653.9,111.3 655.1,111.0 656.2,110.9 657.3,111.0 658.4,111.2 659.6,111.6 660.7,112.1 661.8,112.8 662.9,113.5 664.0,114.3 665.0,115.2 666.3,116.6 667.5,118.2 668.7,120.0 669.8,122.0 670.9,124.0 672.0,126.1 673.0,128.1 674.0,130.0 674.9,131.8 675.7,133.9 676.4,136.0 677.2,138.1 677.9,140.0 678.7,141.5 679.5,142.6 680.3,143.0 681.1,142.7 682.0,141.8 682.8,140.5 683.7,138.8 684.6,137.0 685.5,135.2 686.4,133.5 687.3,132.0 688.1,130.8 689.0,129.5 689.8,128.3 690.6,127.1 691.5,125.9 692.4,124.9 693.5,123.9 694.6,123.0 696.0,122.1 697.6,121.4 699.3,120.7 701.1,120.1 703.0,119.6 704.8,119.3 706.6,119.1 708.4,119.0 710.1,119.1 711.8,119.4 713.5,119.9 715.2,120.5 717.0,121.1 718.7,121.8 720.4,122.4 722.2,123.0 724.1,123.6 726.0,124.2 728.0,124.8 729.9,125.5 731.9,126.1 733.9,126.8 735.9,127.4 738.0,128.0 740.4,128.7 742.8,129.4 745.3,130.2 747.8,130.9 750.4,131.6 752.9,132.2 755.3,132.7 757.7,133.0 759.8,133.1 761.8,133.2 763.8,133.1 765.8,133.0 767.7,132.8 769.7,132.6 771.6,132.3 773.5,132.0 775.3,131.6 777.1,131.2 778.8,130.7 780.5,130.1 782.3,129.6 784.0,129.0 785.6,128.5 787.3,128.0 788.8,127.6 790.3,127.2 791.7,126.8 793.1,126.4 794.6,126.0 796.0,125.6 797.5,125.3 799.0,125.0 800.7,124.7 802.5,124.4 804.3,124.0 806.1,123.8 807.9,123.5 809.7,123.4 811.4,123.4 813.0,123.5 814.3,123.7 815.6,124.1 816.8,124.6 818.0,125.1 819.1,125.7 820.3,126.2 821.5,126.7 822.7,127.0 823.9,127.3 825.2,127.6 826.4,127.9 827.7,128.1 828.9,128.2 830.2,128.3 831.4,128.2 832.6,128.0 833.9,127.5 835.2,126.9 836.4,126.0 837.6,125.1 838.9,124.0 840.1,123.0 841.3,122.0 842.5,121.0 843.7,120.0 845.0,119.0 846.2,117.9 847.4,116.8 848.7,115.7 849.9,114.8 851.1,113.9 852.3,113.2 853.3,112.7 854.2,112.3 855.1,112.0 856.0,111.7 856.9,111.4 857.9,111.2 858.9,111.1 860.0,111.0 861.5,111.0 863.2,111.1 864.9,111.3 866.7,111.6 868.6,111.9 870.4,112.3 872.2,112.7 874.0,113.0 875.8,113.4 877.5,113.9 879.3,114.4 881.1,115.0 882.9,115.5 884.6,115.8 886.3,116.0 888.0,116.0 889.6,115.8 891.1,115.4 892.6,115.0 894.1,114.4 895.5,113.7 897.0,112.9 898.5,112.0 900.0,111.0 902.0,109.5 903.9,107.7 905.9,105.6 907.8,103.4 909.8,101.2 911.8,99.0 913.9,96.9 916.0,95.0 918.1,93.3 920.3,91.5 922.6,89.9 924.8,88.2 927.1,86.7 929.4,85.3 931.7,84.1 934.0,83.0 936.0,82.3 937.9,81.7 939.9,81.2 941.9,80.8 943.8,80.5 945.9,80.2 947.9,79.9 950.0,79.6 952.4,79.3 954.8,78.9 957.3,78.7 959.8,78.4 962.4,78.2 964.9,78.0 967.5,77.8 970.0,77.6 972.5,77.4 975.2,77.2 977.8,77.1 980.4,76.9 983.0,76.8 985.5,76.7 987.8,76.6 990.0,76.6 991.4,76.6 992.7,76.6 994.0,76.6 995.2,76.6 996.3,76.6 997.5,76.7 998.7,76.9 1000.0,77.1 1001.6,77.5 1003.2,78.0 1004.8,78.7 1006.4,79.3 1008.1,80.1 1009.7,80.8 1011.2,81.5 1012.7,82.2 1013.9,82.7 1015.1,83.2 1016.2,83.7 1017.3,84.2 1018.4,84.7 1019.5,85.3 1020.5,85.9 1021.5,86.6 1022.5,87.4 1023.5,88.2 1024.5,89.1 1025.4,90.0 1026.3,91.0 1027.2,92.0 1028.1,93.1 1029.0,94.2 1030.0,95.6 1031.0,97.1 1031.9,98.7 1032.9,100.3 1033.8,102.0 1034.7,103.6 1035.7,105.3 1036.7,106.9 1037.8,108.5 1038.9,110.1 1040.0,111.7 1041.1,113.3 1042.3,114.9 1043.4,116.5 1044.5,118.0 1045.6,119.6 1046.6,121.1 1047.5,122.6 1048.4,124.1 1049.4,125.6 1050.3,127.1 1051.2,128.5 1052.2,129.8 1053.2,131.0 1054.1,132.0 1055.0,132.9 1056.0,133.7 1056.9,134.6 1057.9,135.3 1058.9,136.1 1059.8,136.7 1060.8,137.3 1061.6,137.8 1062.4,138.2 1063.1,138.6 1063.9,139.0 1064.7,139.3 1065.5,139.6 1066.3,139.7 1067.2,139.8 1068.2,139.7 1069.3,139.5 1070.4,139.2 1071.5,138.8 1072.7,138.3 1073.8,137.8 1074.9,137.3 1076.0,136.7 1077.1,136.0 1078.3,135.3 1079.4,134.5 1080.5,133.6 1081.6,132.7 1082.7,131.9 1083.8,131.1 1084.9,130.3 1086.0,129.6 1087.1,128.9 1088.2,128.2 1089.4,127.6 1090.5,127.0 1091.6,126.4 1092.7,125.8 1093.8,125.3 1094.8,124.9 1095.7,124.4 1096.7,124.0 1097.7,123.6 1098.6,123.3 1099.5,123.0 1100.5,122.8 1101.4,122.7 1102.2,122.7 1103.0,122.7 1103.8,122.8 1104.5,123.0 1105.3,123.2 1106.1,123.4 1106.9,123.7 1107.7,124.0 1108.8,124.4 1109.9,124.9 1111.0,125.5 1112.1,126.2 1113.3,126.8 1114.4,127.5 1115.5,128.3 1116.6,129.0 1117.7,129.8 1118.8,130.6 1119.9,131.5 1121.0,132.4 1122.1,133.3 1123.2,134.2 1124.3,135.1 1125.4,136.0" stroke="#f00000" stroke-width="3" stroke-dasharray="6 6" stroke-linecap="round"/>
<path d="M106.3,18.0 107.1,17.4 107.9,16.8 108.7,16.2 109.5,15.5 110.3,14.9 111.1,14.4 111.9,14.1 112.7,14.0 113.4,14.1 114.2,14.5 114.9,15.0 115.6,15.7 116.3,16.3 117.1,16.9 117.8,17.3 118.6,17.5 119.5,17.5 120.5,17.2 121.5,16.7 122.5,16.2 123.5,15.7 124.5,15.3 125.4,15.0 126.2,15.0 126.8,15.2 127.3,15.4 127.9,15.8 128.4,16.2 128.8,16.7 129.3,17.1 129.8,17.6 130.4,18.0 131.1,18.5 131.9,19.2 132.7,19.9 133.5,20.6 134.3,21.3 135.1,21.7 135.8,22.0 136.5,22.0 137.3,21.5 138.0,20.6 138.6,19.4 139.2,17.9 139.8,16.4 140.4,15.0 141.0,13.8 141.6,13.0 141.9,12.7 142.2,12.4 142.5,12.1 142.9,11.8 143.2,11.6 143.5,11.5 143.7,11.5 144.0,11.5 144.4,11.9 144.8,12.7 145.2,13.8 145.5,15.1 145.8,16.5 146.1,18.0 146.3,19.6 146.6,21.0 146.9,22.9 147.2,24.8 147.4,26.9 147.6,29.0 147.8,31.2 147.9,33.4 148.1,35.7 148.3,38.0 148.5,40.7 148.8,43.5 149.0,46.3 149.2,49.2 149.4,52.2 149.6,55.3 149.8,58.5 150.0,62.0 150.3,68.2 150.5,75.8 150.8,84.2 151.0,92.7 151.2,100.5 151.5,107.0 151.7,111.4 152.0,113.0 152.2,112.0 152.5,109.3 152.8,105.4 153.1,100.5 153.3,95.1 153.6,89.7 153.9,84.5 154.2,80.0 154.5,76.2 154.7,72.4 155.0,68.7 155.2,64.9 155.5,61.3 155.8,57.6 156.0,54.1 156.3,50.7 156.5,47.9 156.8,45.1 157.0,42.4 157.3,39.7 157.6,37.1 157.8,34.6 158.1,32.1 158.3,29.6 158.5,27.4 158.6,25.2 158.8,23.0 158.9,20.8 159.1,18.8 159.3,16.9 159.5,15.3 159.8,14.0 159.9,13.6 160.0,13.1 160.2,12.8 160.3,12.4 160.4,12.2 160.6,11.9 160.8,11.7 161.0,11.5 161.3,11.4 161.6,11.3 162.0,11.2 162.4,11.2 162.8,11.2 163.2,11.3 163.6,11.4 164.0,11.5 164.3,11.6 164.7,11.8 165.0,12.0 165.3,12.2 165.7,12.5 166.0,12.8 166.2,13.1 166.5,13.5 166.9,14.4 167.2,15.5 167.5,16.7 167.7,18.1 167.9,19.5 168.1,21.0 168.3,22.4 168.6,23.7 168.9,25.1 169.2,26.8 169.5,28.5 169.8,30.1 170.2,31.6 170.5,32.9 170.8,33.7 171.2,34.0 171.6,33.7 172.0,32.9 172.4,31.7 172.8,30.3 173.2,28.6 173.6,27.0 174.1,25.4 174.5,24.0 175.0,22.6 175.4,21.0 175.9,19.4 176.4,17.7 176.9,16.3 177.4,15.1 177.8,14.3 178.3,14.0 178.8,14.3 179.2,15.1 179.7,16.2 180.1,17.6 180.6,19.2 181.0,20.9 181.4,22.5 181.7,24.0 182.0,25.6 182.3,27.1 182.5,28.7 182.7,30.3 182.9,32.0 183.1,33.8 183.2,35.8 183.4,38.0 183.7,43.0 184.0,48.9 184.3,55.5 184.6,62.6 184.8,69.8 185.1,76.9 185.3,83.8 185.5,90.0 185.7,95.2 185.8,100.9 186.0,106.7 186.1,112.3 186.3,117.3 186.4,121.3 186.5,124.0 186.7,125.0 186.9,124.0 187.0,121.1 187.2,116.9 187.3,111.7 187.5,106.0 187.6,100.2 187.8,94.7 188.0,90.0 188.2,86.1 188.3,82.2 188.5,78.2 188.7,74.4 188.8,70.6 189.0,66.9 189.3,63.4 189.5,60.0 189.7,57.5 189.9,55.1 190.1,52.8 190.3,50.6 190.6,48.4 190.8,46.3 191.1,44.1 191.4,42.0 191.7,40.0 191.9,38.0 192.2,36.1 192.5,34.1 192.8,32.3 193.1,30.4 193.5,28.7 194.0,27.0 194.4,25.6 194.8,24.2 195.3,22.7 195.8,21.3 196.3,20.1 196.9,19.0 197.4,18.3 198.0,18.0 198.5,18.0 199.0,18.3 199.5,18.7 200.0,19.2 200.5,19.9 201.1,20.6 201.5,21.3 202.0,22.0 202.6,23.2 203.2,24.5 203.7,26.0 204.2,27.6 204.7,29.2 205.1,30.9 205.6,32.5 206.0,34.0 206.4,35.4 206.7,36.9 206.9,38.5 207.2,40.0 207.5,41.4 207.9,42.7 208.4,43.7 209.0,44.5 209.6,44.8 210.3,45.0 211.1,45.0 212.0,45.0 212.8,44.9 213.6,44.9 214.4,44.9 215.0,45.2 215.5,45.6 216.0,46.1 216.4,46.6 216.7,47.2 217.1,47.9 217.4,48.6 217.7,49.3 218.0,50.0 218.4,51.0 218.7,52.2 219.0,53.4 219.3,54.6 219.6,55.9 219.9,57.3 220.3,58.6 220.8,60.0 221.6,61.8 222.5,63.8 223.4,65.8 224.5,67.8 225.6,69.9 226.6,71.9 227.6,74.0 228.4,76.0 229.1,77.9 229.7,79.7 230.3,81.6 230.8,83.4 231.4,85.3 231.9,87.2 232.4,89.1 233.0,91.0 233.6,93.0 234.2,95.0 234.9,96.9 235.5,98.9 236.1,100.9 236.7,103.1 237.4,105.4 238.0,108.0 239.1,112.9 240.2,118.4 241.3,124.5 242.4,130.9 243.5,137.4 244.5,143.9 245.5,150.1 246.5,156.0 247.3,160.8 248.1,165.3 248.8,169.8 249.5,174.1 250.2,178.6 250.9,183.1 251.5,187.8 252.0,192.7 252.6,199.1 253.1,205.7 253.5,212.5 253.8,219.4 254.1,226.6 254.4,233.9 254.7,241.4 255.0,249.0 255.4,258.4 255.8,268.2 256.1,278.3 256.5,288.6 256.8,299.0 257.2,309.4 257.6,319.8 258.0,330.0 258.5,341.2 259.0,354.1 259.5,367.5 260.1,380.6 260.6,392.5 261.1,402.1 261.6,408.6 262.0,411.0 262.3,408.7 262.6,402.2 262.9,392.7 263.1,380.9 263.3,367.8 263.6,354.3 263.8,341.4 264.0,330.0 264.2,318.9 264.5,307.5 264.7,295.9 264.9,284.3 265.2,272.8 265.4,261.5 265.7,250.5 266.0,240.0 266.3,231.3 266.5,222.6 266.7,213.9 267.0,205.5 267.3,197.4 267.6,189.7 268.0,182.6 268.5,176.0 268.8,172.1 269.2,168.4 269.6,164.9 270.0,161.6 270.4,158.5 270.9,155.5 271.4,152.7 272.0,150.0 272.4,148.1 272.9,146.1 273.4,144.1 273.9,142.2 274.4,140.5 275.0,139.2 275.5,138.3 276.0,138.0 276.5,138.3 277.0,139.2 277.5,140.6 278.0,142.2 278.5,144.1 279.0,146.1 279.5,148.1 280.0,150.0 280.7,152.9 281.4,156.5 282.2,160.4 282.9,164.4 283.7,168.1 284.4,171.1 285.2,173.2 286.0,174.0 286.6,173.7 287.2,172.7 287.8,171.3 288.5,169.5 289.1,167.5 289.8,165.5 290.4,163.6 291.0,162.0 291.6,160.6 292.1,159.2 292.6,157.8 293.1,156.4 293.7,155.1 294.3,153.7 294.9,152.4 295.6,151.0 296.4,149.5 297.3,148.1 298.3,146.7 299.2,145.2 300.3,143.8 301.3,142.4 302.4,141.0 303.5,139.6 304.7,138.2 306.0,136.8 307.4,135.5 308.8,134.1 310.2,132.8 311.5,131.4 312.7,129.9 313.7,128.3 314.6,126.5 315.3,124.7 315.9,122.8 316.4,120.8 316.8,118.8 317.2,116.7 317.7,114.6 318.2,112.6 318.8,110.3 319.3,107.9 319.7,105.3 320.2,102.8 320.7,100.4 321.3,98.1 321.9,96.1 322.7,94.5 323.2,93.6 323.8,92.8 324.4,92.0 325.0,91.3 325.6,90.7 326.2,90.2 326.7,90.0 327.2,90.0 327.9,90.7 328.4,92.2 328.9,94.3 329.3,96.9 329.6,99.7 329.9,102.6 330.2,105.4 330.6,108.0 331.0,110.9 331.3,114.2 331.5,117.7 331.7,121.1 332.1,124.3 332.5,127.1 333.1,129.3 334.0,130.6 334.5,130.9 335.0,131.1 335.6,131.3 336.2,131.3 336.8,131.2 337.4,131.1 338.0,130.9 338.5,130.6 339.3,129.8 340.0,128.5 340.6,126.9 341.3,125.2 341.9,123.5 342.6,122.0 343.3,121.0 344.0,120.5 344.7,120.6 345.3,121.1 346.0,121.8 346.7,122.7 347.4,123.6 348.1,124.6 348.9,125.4 349.7,126.0 350.5,126.4 351.3,126.7 352.1,127.0 353.0,127.2 353.8,127.4 354.7,127.7 355.6,127.9 356.5,128.3 357.6,128.9 358.7,129.5 359.9,130.3 361.0,131.0 362.2,131.8 363.4,132.5 364.7,133.1 366.0,133.5 367.5,133.8 369.1,133.9 370.8,133.9 372.5,133.8 374.2,133.6 375.8,133.5 377.5,133.5 379.0,133.5 380.3,133.6 381.6,133.7 382.8,133.7 384.1,133.9 385.3,134.0 386.4,134.2 387.5,134.6 388.5,135.0 389.3,135.6 390.0,136.3 390.6,137.2 391.3,138.1 391.9,139.0 392.5,139.7 393.2,140.3 394.0,140.6 395.2,140.6 396.5,140.3 397.8,139.7 399.3,139.0 400.8,138.1 402.2,137.1 403.6,136.0 405.0,135.0 406.5,133.7 408.1,132.2 409.6,130.6 411.1,129.0 412.5,127.2 413.9,125.4 415.3,123.7 416.6,122.0 417.7,120.4 418.8,118.7 419.8,117.0 420.7,115.3 421.7,113.6 422.7,112.1 423.8,110.7 425.0,109.6 426.1,108.8 427.4,108.1 428.6,107.5 430.0,106.9 431.3,106.5 432.6,106.2 433.8,106.0 435.0,106.0 435.9,106.1 436.8,106.4 437.6,106.8 438.5,107.3 439.3,107.8 440.1,108.2 441.0,108.7 442.0,109.0 443.2,109.2 444.6,109.4 446.0,109.4 447.4,109.4 448.8,109.5 450.3,109.6 451.7,109.9 453.0,110.4 454.5,111.2 456.0,112.3 457.5,113.5 458.9,114.8 460.3,116.3 461.7,117.8 463.1,119.3 464.5,120.8 466.0,122.4 467.5,124.2 468.9,126.0 470.4,127.8 471.8,129.6 473.1,131.5 474.5,133.3 475.8,135.0 476.9,136.5 477.9,138.1 479.0,139.7 479.9,141.3 480.9,142.8 481.9,144.1 482.9,145.3 484.0,146.2 484.7,146.7 485.4,147.0 486.1,147.3 486.9,147.6 487.6,147.7 488.4,147.9 489.2,148.0 490.0,148.2 491.2,148.4 492.5,148.6 493.9,148.8 495.3,148.9 496.7,149.0 498.2,149.1 499.6,149.1 501.0,149.0 502.4,148.8 503.9,148.6 505.4,148.3 506.8,148.0 508.3,147.6 509.7,147.1 511.1,146.7 512.4,146.2 513.5,145.7 514.7,145.0 515.7,144.3 516.8,143.6 517.8,142.9 518.9,142.4 519.9,142.0 521.0,142.0 522.4,142.3 523.7,143.0 525.1,143.9 526.5,145.0 527.9,146.2 529.3,147.6 530.7,149.0 532.0,150.4 533.5,152.2 535.1,154.2 536.5,156.4 538.0,158.7 539.4,161.0 540.8,163.2 542.1,165.4 543.4,167.3 544.4,168.8 545.3,170.5 546.2,172.1 547.1,173.7 547.9,175.1 548.8,176.3 549.6,177.0 550.4,177.2 551.4,176.7 552.3,175.5 553.2,173.8 554.1,171.6 554.9,169.2 555.8,166.6 556.6,164.1 557.5,161.7 558.6,158.5 559.5,154.9 560.4,151.0 561.3,147.1 562.2,143.2 563.3,139.6 564.5,136.3 566.0,133.5 567.2,131.8 568.4,130.3 569.7,128.8 571.0,127.5 572.4,126.4 573.9,125.4 575.4,124.5 577.0,123.7 578.6,123.1 580.4,122.8 582.3,122.6 584.2,122.6 586.0,122.5 587.8,122.5 589.5,122.5 591.0,122.3 591.9,122.1 592.6,121.9 593.3,121.7 594.0,121.5 594.7,121.3 595.4,121.1 596.2,120.9 597.0,120.8 598.4,120.6 599.9,120.5 601.5,120.4 603.2,120.3 604.9,120.3 606.7,120.4 608.3,120.6 609.9,121.0 611.5,121.6 613.1,122.3 614.7,123.2 616.2,124.2 617.7,125.3 619.2,126.3 620.5,127.2 621.7,128.0 622.4,128.4 623.1,128.8 623.7,129.1 624.3,129.5 624.8,129.8 625.4,130.2 626.0,130.5 626.5,131.0 627.1,131.7 627.7,132.5 628.3,133.4 628.8,134.4 629.4,135.2 629.9,135.9 630.5,136.4 631.0,136.5 631.7,136.1 632.4,135.1 633.1,133.7 633.7,132.0 634.3,130.1 634.9,128.2 635.5,126.5 636.0,125.0 636.4,123.9 636.7,122.9 637.0,121.8 637.3,120.8 637.6,119.8 637.8,118.9 638.2,117.9 638.5,117.0 638.8,116.2 639.2,115.5 639.5,114.9 639.9,114.2 640.3,113.5 640.7,112.8 641.0,112.1 641.4,111.3 641.9,110.1 642.3,108.8 642.7,107.5 643.1,106.0 643.6,104.6 644.1,103.2 644.7,101.8 645.3,100.4 646.1,98.9 647.0,97.4 648.0,95.8 649.0,94.3 650.0,92.8 651.1,91.4 652.2,90.2 653.2,89.2 653.9,88.6 654.6,88.2 655.2,87.8 655.9,87.4 656.6,87.1 657.4,86.8 658.1,86.5 659.0,86.2 660.4,85.7 661.9,85.3 663.5,84.9 665.2,84.5 666.9,84.1 668.6,83.8 670.3,83.5 672.0,83.3 673.6,83.1 675.3,82.9 676.9,82.7 678.6,82.6 680.2,82.5 681.8,82.5 683.4,82.6 684.8,82.7 685.9,82.9 686.9,83.1 687.8,83.4 688.8,83.7 689.7,84.0 690.6,84.4 691.6,84.8 692.6,85.2 693.9,85.7 695.3,86.2 696.8,86.8 698.2,87.4 699.7,88.1 701.0,88.8 702.3,89.7 703.5,90.6 704.6,91.8 705.5,93.2 706.4,94.7 707.2,96.3 707.9,97.9 708.7,99.5 709.5,100.8 710.4,102.0 711.1,102.7 711.8,103.5 712.5,104.1 713.2,104.7 713.9,105.3 714.6,105.7 715.3,106.1 716.0,106.3 716.6,106.4 717.1,106.5 717.7,106.5 718.3,106.4 718.8,106.3 719.4,106.1 719.9,105.8 720.4,105.5 721.0,104.8 721.6,103.8 722.1,102.6 722.5,101.2 722.9,99.9 723.4,98.5 723.9,97.2 724.6,96.0 725.4,94.9 726.2,93.8 727.0,92.7 727.9,91.6 728.9,90.6 729.9,89.7 730.9,89.0 732.0,88.5 733.1,88.2 734.3,88.1 735.5,88.2 736.8,88.3 738.1,88.6 739.4,88.9 740.7,89.3 742.0,89.6 743.5,90.0 744.9,90.6 746.4,91.2 747.9,91.8 749.4,92.5 750.9,93.2 752.4,93.9 753.8,94.5 755.1,95.0 756.3,95.5 757.5,96.0 758.8,96.5 760.0,97.0 761.2,97.4 762.4,97.9 763.6,98.4 764.8,98.9 766.0,99.3 767.2,99.7 768.4,100.2 769.7,100.6 770.9,101.2 772.2,101.7 773.5,102.4 775.4,103.4 777.3,104.6 779.4,105.9 781.5,107.3 783.6,108.7 785.6,110.2 787.5,111.7 789.2,113.2 790.6,114.6 791.9,116.0 793.2,117.5 794.3,119.0 795.5,120.5 796.6,122.1 797.8,123.5 799.0,125.0 800.3,126.4 801.5,127.8 802.8,129.2 804.1,130.6 805.4,132.0 806.7,133.4 807.9,134.7 809.0,135.9 809.8,136.8 810.6,137.7 811.3,138.6 812.1,139.4 812.8,140.2 813.5,141.1 814.2,141.9 814.9,142.8 815.6,143.8 816.3,145.0 817.0,146.3 817.7,147.5 818.4,148.6 819.1,149.6 819.9,150.3 820.8,150.7 821.9,150.7 823.1,150.3 824.3,149.5 825.6,148.6 827.0,147.6 828.2,146.6 829.5,145.6 830.6,144.8 831.4,144.3 832.1,143.7 832.8,143.2 833.5,142.7 834.2,142.2 834.9,141.7 835.6,141.2 836.5,140.8 837.8,140.3 839.2,139.9 840.8,139.6 842.4,139.2 844.0,138.9 845.6,138.6 847.1,138.3 848.4,137.9 849.3,137.6 850.2,137.2 851.0,136.9 851.8,136.5 852.6,136.2 853.4,135.8 854.2,135.4 855.0,135.0 855.8,134.5 856.7,134.0 857.5,133.4 858.3,132.8 859.1,132.2 860.0,131.7 861.0,131.3 862.0,131.0 863.7,130.8 865.6,130.8 867.6,130.9 869.7,131.1 871.9,131.5 874.0,132.0 876.1,132.5 878.0,133.0 879.6,133.5 881.2,134.1 882.7,134.8 884.2,135.5 885.6,136.2 887.1,137.1 888.5,138.0 890.0,139.0 891.7,140.4 893.5,142.1 895.2,144.0 896.9,146.0 898.6,147.9 900.3,149.6 902.1,151.0 904.0,152.0 905.7,152.6 907.4,153.0 909.3,153.3 911.1,153.4 912.9,153.3 914.7,153.0 916.4,152.6 918.0,152.0 919.7,151.0 921.3,149.5 922.8,147.8 924.2,145.8 925.7,143.8 927.1,141.7 928.5,139.8 930.0,138.0 931.4,136.4 932.9,134.7 934.3,133.0 935.7,131.3 937.2,129.8 938.7,128.3 940.3,127.1 942.0,126.0 943.8,125.2 945.7,124.5 947.7,123.9 949.8,123.5 951.8,123.2 953.9,123.0 956.0,122.9 958.0,123.0 960.0,123.3 962.0,123.7 964.1,124.4 966.1,125.2 968.1,126.0 970.1,126.8 972.0,127.5 974.0,128.0 975.8,128.3 977.6,128.5 979.4,128.6 981.2,128.7 982.9,128.9 984.7,129.1 986.4,129.4 988.0,130.0 989.6,130.8 991.3,131.9 992.8,133.1 994.4,134.4 995.9,135.7 997.3,137.0 998.7,138.1 1000.0,139.0 1000.8,139.5 1001.6,139.8 1002.4,140.1 1003.1,140.4 1003.8,140.7 1004.6,141.1 1005.3,141.5 1006.0,142.0 1007.0,142.9 1008.0,144.0 1008.9,145.3 1009.9,146.6 1010.8,148.0 1011.8,149.4 1012.9,150.7 1014.0,152.0 1015.3,153.4 1016.7,154.7 1018.1,156.1 1019.6,157.4 1021.1,158.8 1022.6,160.1 1024.1,161.4 1025.6,162.8 1027.1,164.1 1028.7,165.4 1030.3,166.7 1031.8,168.0 1033.4,169.4 1034.8,170.8 1036.2,172.2 1037.5,173.8 1038.6,175.6 1039.7,177.4 1040.6,179.4 1041.4,181.4 1042.2,183.5 1043.0,185.5 1043.9,187.5 1044.9,189.4 1046.0,191.2 1047.1,192.9 1048.3,194.5 1049.6,196.2 1050.8,197.9 1051.9,199.5 1053.0,201.2 1054.0,203.0 1054.8,204.8 1055.5,206.6 1056.2,208.5 1056.7,210.4 1057.3,212.3 1058.0,214.2 1058.7,216.0 1059.5,217.8 1060.5,219.6 1061.7,221.3 1062.9,223.0 1064.2,224.6 1065.4,226.3 1066.6,228.0 1067.7,229.7 1068.7,231.5 1069.4,233.4 1070.0,235.4 1070.4,237.5 1070.8,239.6 1071.2,241.7 1071.7,243.6 1072.4,245.4 1073.3,247.0 1074.3,248.2 1075.4,249.3 1076.6,250.3 1078.0,251.2 1079.3,252.0 1080.7,252.8 1082.0,253.6 1083.3,254.4 1084.5,255.3 1085.8,256.2 1087.0,257.2 1088.3,258.2 1089.5,259.0 1090.7,259.7 1091.7,260.0 1092.5,259.9 1093.1,259.4 1093.6,258.6 1093.9,257.5 1094.2,256.3 1094.5,254.9 1094.7,253.4 1094.9,252.0 1095.2,250.7 1095.5,249.3 1095.9,247.8 1096.2,246.4 1096.5,244.9 1096.8,243.3 1097.1,241.8 1097.5,240.3 1098.0,238.8 1098.6,237.1 1099.2,235.1 1099.8,233.0 1100.5,231.0 1101.2,229.2 1101.9,227.6 1102.7,226.5 1103.5,226.0 1104.0,226.1 1104.5,226.4 1105.1,227.0 1105.6,227.7 1106.2,228.4 1106.8,229.0 1107.4,229.5 1108.0,229.7 1108.7,229.6 1109.5,229.4 1110.3,228.9 1111.1,228.4 1111.9,227.8 1112.8,227.1 1113.6,226.5 1114.5,226.0 1115.5,225.4 1116.6,224.7 1117.7,223.9 1118.8,223.1 1119.9,222.4 1120.9,221.9 1121.9,221.5 1122.7,221.4 1123.1,221.5 1123.5,221.6 1123.8,221.9 1124.2,222.1 1124.5,222.4 1124.8,222.7 1125.1,223.0 1125.4,223.3" stroke="#0070c0" stroke-width="3" stroke-dasharray="9 12 0.01 12" stroke-linecap="round"/>
<path d="M106.3,16.0 107.1,15.6 107.9,15.2 108.7,14.8 109.5,14.4 110.3,14.0 111.1,13.7 111.9,13.5 112.7,13.5 113.5,13.7 114.2,14.1 114.9,14.6 115.6,15.2 116.3,15.9 117.1,16.4 117.8,16.8 118.6,17.0 119.5,16.9 120.5,16.6 121.5,16.1 122.5,15.5 123.5,14.9 124.5,14.4 125.4,14.1 126.2,14.0 126.8,14.2 127.3,14.4 127.9,14.8 128.4,15.2 128.8,15.7 129.3,16.2 129.9,16.6 130.4,17.0 131.0,17.4 131.6,17.8 132.3,18.3 133.0,18.7 133.6,19.1 134.3,19.4 134.9,19.5 135.5,19.5 136.2,19.1 136.9,18.5 137.6,17.5 138.3,16.5 138.9,15.4 139.5,14.4 140.1,13.5 140.6,12.8 140.9,12.5 141.1,12.3 141.4,12.0 141.6,11.8 141.8,11.6 142.1,11.5 142.3,11.4 142.5,11.3 142.6,11.3 142.8,11.2 142.9,11.2 143.1,11.2 143.2,11.3 143.3,11.3 143.5,11.4 143.6,11.5 143.9,12.0 144.2,12.9 144.5,14.0 144.8,15.2 145.0,16.6 145.2,18.1 145.4,19.6 145.6,21.0 145.9,22.9 146.1,24.8 146.3,26.9 146.5,29.0 146.7,31.2 146.9,33.4 147.1,35.7 147.3,38.0 147.5,40.7 147.8,43.5 148.0,46.3 148.2,49.2 148.4,52.2 148.6,55.3 148.8,58.6 149.0,62.0 149.3,68.0 149.5,75.4 149.8,83.6 150.0,91.8 150.2,99.4 150.5,105.7 150.7,109.9 151.0,111.5 151.2,110.6 151.5,108.0 151.8,104.3 152.1,99.6 152.4,94.5 152.6,89.3 152.9,84.3 153.2,80.0 153.5,76.3 153.7,72.5 154.0,68.7 154.2,65.0 154.5,61.3 154.8,57.7 155.0,54.1 155.3,50.7 155.5,47.9 155.8,45.1 156.0,42.4 156.3,39.7 156.6,37.1 156.8,34.6 157.1,32.1 157.3,29.6 157.5,27.4 157.6,25.2 157.8,23.0 158.0,20.9 158.1,18.8 158.3,16.9 158.5,15.3 158.8,14.0 158.9,13.5 159.0,13.1 159.1,12.6 159.3,12.3 159.4,11.9 159.6,11.6 159.8,11.4 160.0,11.2 160.3,11.1 160.6,11.0 161.0,10.9 161.4,10.9 161.8,10.9 162.2,11.0 162.6,11.1 163.0,11.2 163.3,11.3 163.7,11.5 164.0,11.6 164.3,11.8 164.7,12.0 165.0,12.3 165.2,12.6 165.5,13.0 165.9,13.9 166.2,15.0 166.5,16.4 166.7,17.8 166.9,19.3 167.1,20.9 167.3,22.3 167.6,23.7 167.9,25.0 168.2,26.5 168.5,28.1 168.8,29.5 169.2,30.9 169.5,32.0 169.8,32.7 170.2,33.0 170.6,32.7 171.0,32.0 171.4,30.9 171.8,29.6 172.2,28.0 172.6,26.5 173.1,25.0 173.5,23.7 174.0,22.3 174.4,20.7 174.9,19.0 175.4,17.3 175.9,15.8 176.4,14.6 176.8,13.8 177.3,13.5 177.8,13.8 178.2,14.6 178.7,15.8 179.1,17.2 179.6,18.8 180.0,20.5 180.4,22.2 180.7,23.7 181.0,25.3 181.3,26.8 181.5,28.4 181.7,30.0 181.9,31.7 182.1,33.6 182.2,35.7 182.4,38.0 182.8,44.4 183.1,52.2 183.4,61.2 183.6,70.9 183.9,81.0 184.1,91.1 184.3,100.9 184.5,110.0 184.7,118.8 184.8,128.7 185.0,139.0 185.1,149.0 185.3,158.0 185.4,165.3 185.6,170.2 185.7,172.0 185.9,170.1 186.0,165.1 186.2,157.5 186.3,148.3 186.5,138.2 186.6,127.9 186.8,118.3 187.0,110.0 187.2,103.3 187.3,96.5 187.4,89.8 187.6,83.1 187.8,76.7 188.0,70.6 188.2,65.0 188.5,60.0 188.7,57.3 188.9,54.8 189.1,52.6 189.4,50.4 189.6,48.3 189.9,46.2 190.1,44.2 190.4,42.0 190.7,39.9 190.9,37.7 191.2,35.5 191.5,33.4 191.8,31.2 192.1,29.2 192.5,27.2 193.0,25.4 193.4,23.9 193.9,22.4 194.4,20.8 194.9,19.4 195.4,18.0 196.0,16.9 196.6,16.1 197.2,15.6 197.5,15.5 197.9,15.5 198.2,15.5 198.6,15.6 199.0,15.8 199.3,16.0 199.7,16.2 200.0,16.5 200.6,17.1 201.1,18.0 201.7,19.0 202.2,20.1 202.7,21.3 203.1,22.6 203.6,23.8 204.0,25.0 204.4,26.3 204.6,27.9 204.8,29.5 205.0,31.1 205.2,32.6 205.5,33.9 205.8,34.9 206.4,35.5 206.9,35.6 207.5,35.4 208.2,35.1 208.9,34.6 209.6,34.1 210.3,33.8 210.9,33.6 211.5,33.6 212.2,34.1 212.8,34.8 213.4,35.8 214.0,37.0 214.5,38.3 215.1,39.5 215.5,40.6 216.0,41.5 216.3,42.0 216.5,42.4 216.8,42.9 217.0,43.3 217.3,43.6 217.5,44.1 217.7,44.5 218.0,45.0 218.4,45.8 218.8,46.7 219.1,47.7 219.5,48.8 220.0,49.8 220.4,50.8 221.0,51.6 221.6,52.4 222.3,53.0 223.1,53.4 224.0,53.7 225.0,54.0 225.9,54.2 226.8,54.6 227.7,55.1 228.4,55.7 229.2,56.8 229.9,58.1 230.5,59.6 231.1,61.2 231.6,62.9 232.0,64.6 232.5,66.3 233.0,68.0 233.5,69.8 233.9,71.8 234.3,73.8 234.7,75.9 235.1,77.8 235.6,79.7 236.1,81.4 236.8,82.8 237.4,83.6 238.0,84.2 238.7,84.8 239.4,85.2 240.1,85.7 240.8,86.3 241.4,87.0 242.0,87.8 242.9,89.6 243.6,91.7 244.3,94.1 244.8,96.8 245.4,99.5 245.9,102.4 246.4,105.2 247.0,108.0 247.7,111.4 248.3,115.1 248.9,119.0 249.5,122.9 250.1,126.7 250.7,130.2 251.3,133.4 252.0,136.0 252.4,137.1 252.7,138.1 253.1,138.9 253.5,139.7 253.9,140.4 254.3,141.2 254.6,142.1 255.0,143.0 255.5,144.3 255.9,145.5 256.4,146.8 256.8,148.1 257.2,149.6 257.6,151.2 258.0,153.0 258.4,155.0 259.2,161.3 259.8,169.3 260.3,178.5 260.7,188.6 261.0,199.2 261.3,209.9 261.6,220.3 262.0,230.0 262.4,239.8 262.7,250.9 263.0,262.6 263.3,273.9 263.6,284.1 263.9,292.4 264.2,298.0 264.5,300.0 264.8,297.9 265.1,292.1 265.5,283.6 265.8,273.2 266.1,261.8 266.4,250.2 266.7,239.3 267.0,230.0 267.2,222.7 267.4,215.6 267.5,208.5 267.7,201.5 267.9,194.7 268.0,188.0 268.2,181.4 268.5,175.0 268.7,169.6 269.0,164.3 269.2,159.0 269.5,153.8 269.8,148.8 270.1,144.0 270.5,139.4 271.0,135.0 271.4,131.6 271.8,128.0 272.3,124.4 272.7,120.9 273.2,117.9 273.8,115.4 274.4,113.7 275.0,113.0 275.4,113.1 275.7,113.4 276.1,113.9 276.5,114.5 276.9,115.3 277.3,116.2 277.7,117.1 278.0,118.0 278.6,119.9 279.0,122.2 279.4,124.8 279.7,127.7 280.1,130.7 280.4,133.8 280.7,136.9 281.0,140.0 281.5,144.0 281.9,148.2 282.4,152.5 282.8,156.9 283.2,161.4 283.7,166.0 284.1,170.5 284.5,175.0 284.9,180.1 285.2,185.9 285.5,192.0 285.8,198.0 286.1,203.4 286.5,207.8 287.0,210.8 287.5,212.0 287.8,211.7 288.1,211.0 288.4,209.8 288.7,208.6 289.0,207.3 289.3,206.1 289.7,205.3 290.0,205.0 290.3,205.1 290.7,205.6 291.1,206.2 291.4,207.0 291.8,208.0 292.2,209.0 292.6,210.0 293.0,211.0 293.7,213.0 294.6,215.7 295.4,218.6 296.3,221.7 297.1,224.5 298.0,226.8 298.8,228.4 299.5,229.0 300.1,228.5 300.6,227.2 301.1,225.3 301.6,223.0 302.0,220.4 302.5,217.7 303.0,215.2 303.5,213.0 304.1,210.8 304.7,208.2 305.3,205.6 305.9,203.0 306.5,200.7 307.2,198.7 307.8,197.5 308.5,197.0 309.2,197.8 310.0,200.0 310.8,203.0 311.6,206.6 312.4,210.1 313.1,213.1 313.8,215.2 314.5,216.0 315.4,214.7 316.1,211.2 316.8,206.1 317.5,199.9 318.1,193.2 318.6,186.4 319.2,180.2 319.8,175.0 320.2,171.5 320.6,168.1 321.0,164.8 321.4,161.6 321.8,158.6 322.2,155.6 322.7,152.7 323.2,150.0 323.6,147.9 324.1,145.5 324.6,143.2 325.1,141.0 325.6,139.0 326.1,137.4 326.7,136.4 327.2,136.0 327.8,136.4 328.4,137.5 329.0,139.1 329.6,141.1 330.2,143.3 330.8,145.6 331.4,147.9 332.0,150.0 332.6,152.4 333.2,154.9 333.8,157.6 334.4,160.3 335.0,162.9 335.5,165.5 336.1,167.9 336.7,170.0 337.1,171.4 337.4,172.9 337.8,174.3 338.1,175.7 338.5,176.9 338.9,178.0 339.4,178.7 340.0,179.0 340.7,178.8 341.5,178.0 342.4,176.8 343.3,175.5 344.2,174.1 345.2,173.0 346.1,172.2 346.9,172.0 348.0,172.7 349.0,174.4 349.9,176.8 350.8,179.5 351.8,182.4 352.7,185.1 353.7,187.4 354.8,189.0 355.5,189.6 356.2,190.0 356.9,190.3 357.6,190.5 358.4,190.8 359.1,191.1 359.8,191.5 360.5,192.0 361.5,193.1 362.5,194.6 363.4,196.2 364.3,197.9 365.3,199.8 366.2,201.6 367.1,203.4 368.0,205.0 368.9,206.4 369.8,207.8 370.7,209.1 371.7,210.4 372.6,211.7 373.4,213.1 374.2,214.5 375.0,216.0 375.8,217.8 376.4,219.7 377.1,221.7 377.6,223.8 378.2,225.8 378.8,227.9 379.4,230.0 380.0,232.0 380.7,234.0 381.4,236.1 382.2,238.3 382.9,240.4 383.7,242.4 384.5,244.4 385.2,246.3 386.0,248.0 386.6,249.2 387.1,250.3 387.7,251.3 388.2,252.3 388.8,253.2 389.3,254.2 389.9,255.1 390.4,256.0 390.8,256.8 391.2,257.7 391.6,258.6 392.0,259.5 392.4,260.3 392.8,261.0 393.3,261.5 393.8,261.8 394.3,261.9 394.8,261.9 395.3,261.8 395.9,261.7 396.4,261.4 396.9,261.2 397.4,260.8 397.8,260.5 398.2,260.0 398.6,259.4 398.8,258.8 399.1,258.1 399.3,257.3 399.5,256.5 399.8,255.6 400.0,254.8 400.4,253.5 400.7,252.2 401.1,250.7 401.5,249.2 401.8,247.6 402.2,246.1 402.5,244.5 402.8,243.0 403.1,241.5 403.4,240.0 403.6,238.5 403.9,237.0 404.2,235.4 404.4,233.9 404.7,232.3 405.0,230.6 405.4,228.5 405.8,226.2 406.3,223.9 406.7,221.6 407.2,219.2 407.6,216.9 408.1,214.6 408.5,212.5 408.8,210.9 409.1,209.3 409.4,207.9 409.7,206.4 410.0,204.9 410.3,203.4 410.6,201.8 411.0,200.0 411.5,196.8 412.1,192.8 412.6,188.4 413.2,184.0 413.9,179.9 414.7,176.4 415.6,174.0 416.6,173.0 417.4,173.4 418.3,174.6 419.3,176.4 420.3,178.5 421.3,180.8 422.5,182.9 423.7,184.6 425.0,185.6 426.2,186.0 427.4,186.0 428.8,185.9 430.1,185.6 431.6,185.2 433.0,184.8 434.5,184.3 436.0,184.0 438.0,183.6 440.1,183.0 442.3,182.4 444.5,181.8 446.7,181.2 448.9,180.6 451.0,180.2 453.0,180.0 454.5,179.9 456.0,180.0 457.5,180.1 458.9,180.2 460.3,180.4 461.7,180.6 463.1,180.8 464.5,181.0 465.9,181.2 467.3,181.5 468.7,181.9 470.0,182.2 471.4,182.6 472.8,182.8 474.3,183.0 475.8,183.0 477.8,182.8 479.9,182.3 482.0,181.7 484.2,181.0 486.5,180.2 488.6,179.5 490.7,179.0 492.7,178.6 494.2,178.4 495.7,178.1 497.2,177.9 498.6,177.8 500.0,177.7 501.4,177.8 502.7,178.1 504.0,178.6 505.5,179.6 507.0,180.9 508.4,182.5 509.7,184.3 511.1,186.3 512.4,188.4 513.7,190.5 515.0,192.7 516.8,195.7 518.7,199.0 520.5,202.4 522.4,206.0 524.2,209.7 525.9,213.5 527.5,217.3 529.0,221.0 530.4,224.7 531.7,228.4 532.9,232.1 534.0,235.9 535.1,239.7 536.0,243.7 536.9,247.8 537.7,252.0 538.5,257.3 539.1,262.8 539.5,268.4 539.9,274.1 540.1,280.1 540.4,286.4 540.7,293.0 541.0,300.0 541.6,312.6 542.2,328.3 542.8,345.6 543.4,363.1 544.0,379.2 544.5,392.6 545.0,401.6 545.5,405.0 545.9,402.8 546.2,396.9 546.5,388.0 546.8,377.0 547.1,364.9 547.4,352.4 547.7,340.5 548.0,330.0 548.3,319.9 548.7,309.5 549.0,299.0 549.3,288.5 549.7,278.1 550.1,268.2 550.5,258.7 551.0,250.0 551.3,244.3 551.7,239.0 552.0,233.9 552.3,229.0 552.7,224.3 553.2,219.5 553.8,214.6 554.6,209.6 555.6,203.9 556.8,198.0 558.1,191.9 559.5,185.8 561.0,179.9 562.6,174.3 564.2,169.1 566.0,164.5 567.2,161.7 568.4,159.1 569.7,156.6 571.0,154.3 572.3,152.2 573.8,150.1 575.3,148.0 577.0,146.0 578.9,143.9 580.9,141.9 583.1,139.9 585.4,138.0 587.7,136.2 589.9,134.6 592.0,133.1 594.0,132.0 595.1,131.4 596.2,130.9 597.3,130.4 598.3,130.1 599.3,129.8 600.4,129.6 601.4,129.4 602.5,129.3 603.7,129.3 604.9,129.3 606.1,129.4 607.3,129.5 608.6,129.8 609.8,130.1 610.9,130.5 612.0,131.0 613.1,131.7 614.2,132.5 615.2,133.4 616.2,134.4 617.2,135.5 618.1,136.6 618.9,137.7 619.7,138.8 620.4,139.8 620.9,140.8 621.5,141.8 621.9,142.9 622.4,143.9 622.9,145.0 623.4,146.0 624.0,147.0 624.7,148.1 625.4,149.3 626.1,150.7 626.9,151.9 627.6,153.0 628.3,153.9 629.0,154.5 629.6,154.6 630.4,153.9 631.0,152.2 631.5,149.8 632.0,146.9 632.4,143.8 632.9,140.6 633.4,137.6 634.0,135.0 634.6,132.9 635.1,130.8 635.7,128.7 636.3,126.6 636.9,124.6 637.7,122.7 638.5,120.8 639.4,119.0 640.4,117.3 641.5,115.6 642.7,113.9 644.0,112.3 645.3,110.8 646.7,109.4 648.0,108.2 649.3,107.3 650.2,106.8 651.2,106.3 652.1,106.0 653.0,105.7 654.0,105.5 655.0,105.4 656.0,105.3 657.0,105.3 658.4,105.4 659.9,105.7 661.4,106.1 663.0,106.7 664.5,107.3 666.1,107.9 667.6,108.6 669.0,109.3 670.3,110.0 671.7,110.8 672.9,111.6 674.2,112.5 675.4,113.4 676.7,114.3 677.8,115.1 679.0,116.0 680.0,116.8 681.0,117.8 682.0,118.8 682.9,119.8 683.9,120.7 684.8,121.4 685.6,121.9 686.5,122.0 687.2,121.8 688.0,121.3 688.6,120.6 689.3,119.7 690.0,118.8 690.6,117.8 691.3,116.8 692.0,116.0 692.8,115.1 693.5,114.2 694.3,113.3 695.0,112.4 695.8,111.5 696.7,110.7 697.6,109.9 698.6,109.3 699.8,108.7 701.2,108.2 702.6,107.8 704.1,107.5 705.6,107.3 707.2,107.2 708.8,107.2 710.4,107.3 712.4,107.7 714.6,108.3 716.7,109.2 718.9,110.2 721.2,111.2 723.4,112.3 725.7,113.3 728.0,114.2 730.4,115.0 732.8,115.8 735.3,116.6 737.8,117.4 740.3,118.2 742.8,118.8 745.3,119.5 747.8,120.0 750.2,120.5 752.7,120.9 755.2,121.3 757.6,121.6 760.1,121.9 762.6,122.1 765.0,122.1 767.5,122.1 770.0,121.9 772.4,121.7 774.9,121.3 777.3,120.9 779.8,120.3 782.3,119.7 784.8,119.0 787.3,118.2 790.3,117.1 793.3,115.9 796.5,114.4 799.6,112.9 802.7,111.4 805.6,109.9 808.4,108.5 811.0,107.3 812.6,106.5 814.2,105.8 815.6,105.0 817.0,104.3 818.4,103.7 819.8,103.1 821.2,102.7 822.7,102.4 824.3,102.3 826.0,102.3 827.8,102.5 829.5,102.8 831.3,103.1 833.0,103.5 834.8,103.7 836.5,103.8 838.2,103.8 839.9,103.7 841.5,103.5 843.2,103.4 844.9,103.2 846.6,103.1 848.3,103.0 850.0,103.0 852.0,103.1 854.0,103.2 856.0,103.3 858.1,103.5 860.2,103.7 862.2,104.0 864.1,104.5 866.0,105.0 867.6,105.6 869.2,106.2 870.8,107.0 872.2,107.8 873.7,108.6 875.2,109.6 876.6,110.8 878.0,112.0 879.8,113.9 881.6,116.3 883.3,118.8 885.0,121.5 886.7,124.3 888.4,127.0 890.2,129.6 892.0,132.0 893.7,134.1 895.4,136.4 897.2,138.8 899.0,141.1 900.8,143.0 902.6,144.6 904.3,145.7 906.0,146.0 907.6,145.6 909.1,144.5 910.7,142.9 912.2,140.9 913.7,138.7 915.1,136.4 916.6,134.1 918.0,132.0 919.5,129.7 921.0,127.2 922.4,124.6 923.8,121.9 925.2,119.3 926.7,116.7 928.3,114.3 930.0,112.0 931.8,110.0 933.6,108.0 935.6,106.1 937.6,104.3 939.7,102.5 941.8,100.9 943.9,99.4 946.0,98.0 947.9,96.8 949.9,95.8 951.9,94.8 953.9,93.8 955.9,93.0 957.9,92.3 960.0,91.6 962.0,91.0 963.9,90.5 965.9,90.1 967.8,89.7 969.8,89.4 971.7,89.2 973.8,89.0 975.8,89.0 978.0,89.0 980.8,89.2 983.8,89.7 986.9,90.4 990.0,91.2 993.2,91.9 996.2,92.6 999.2,93.1 1002.0,93.4 1004.1,93.4 1006.2,93.4 1008.3,93.2 1010.3,93.0 1012.2,92.7 1014.1,92.4 1015.9,92.1 1017.7,91.7 1019.1,91.4 1020.4,91.0 1021.6,90.6 1022.9,90.1 1024.1,89.7 1025.3,89.2 1026.6,88.8 1027.9,88.5 1029.4,88.2 1030.9,87.8 1032.5,87.5 1034.1,87.3 1035.7,87.0 1037.3,86.8 1038.9,86.7 1040.5,86.6 1042.1,86.6 1043.7,86.6 1045.3,86.7 1046.9,86.8 1048.4,86.9 1050.0,87.1 1051.6,87.3 1053.2,87.6 1054.8,87.9 1056.4,88.2 1058.1,88.6 1059.7,89.0 1061.3,89.5 1062.9,89.9 1064.4,90.5 1065.9,91.0 1067.2,91.5 1068.6,92.1 1069.8,92.7 1071.1,93.3 1072.3,93.9 1073.6,94.6 1074.8,95.3 1076.0,96.1 1077.3,97.0 1078.7,97.9 1080.0,98.9 1081.3,99.9 1082.6,101.0 1083.8,102.1 1085.0,103.2 1086.2,104.3 1087.2,105.4 1088.2,106.5 1089.2,107.6 1090.1,108.8 1091.0,110.0 1091.9,111.1 1092.8,112.2 1093.8,113.2 1094.7,114.1 1095.6,115.0 1096.6,115.8 1097.5,116.6 1098.4,117.4 1099.4,118.2 1100.4,118.9 1101.4,119.6 1102.4,120.3 1103.5,120.9 1104.6,121.5 1105.7,122.0 1106.8,122.6 1107.9,123.1 1109.0,123.6 1110.2,124.0 1111.5,124.4 1112.8,124.7 1114.1,124.9 1115.5,125.2 1116.8,125.4 1118.1,125.7 1119.3,126.0 1120.4,126.5 1121.2,127.0 1121.8,127.5 1122.5,128.0 1123.1,128.6 1123.6,129.2 1124.2,129.8 1124.8,130.4 1125.4,131.0" stroke="#4a6a2a" stroke-width="3.2" stroke-dasharray="0.01 6.2" stroke-linecap="round"/>
<path d="M106.3,16.5 107.1,16.1 107.9,15.6 108.7,15.1 109.5,14.6 110.3,14.1 111.1,13.8 111.9,13.5 112.7,13.5 113.5,13.7 114.2,14.1 114.9,14.7 115.6,15.4 116.3,16.1 117.1,16.7 117.8,17.1 118.6,17.3 119.5,17.2 120.5,16.8 121.5,16.3 122.5,15.6 123.5,15.0 124.4,14.5 125.4,14.1 126.2,14.0 126.8,14.1 127.3,14.4 127.9,14.7 128.4,15.1 128.9,15.6 129.4,16.0 129.9,16.5 130.4,16.9 131.0,17.4 131.7,18.0 132.3,18.6 133.0,19.2 133.6,19.8 134.3,20.2 134.9,20.5 135.5,20.5 136.2,20.1 136.9,19.4 137.6,18.3 138.2,17.1 138.9,15.8 139.5,14.6 140.1,13.6 140.6,12.8 140.9,12.5 141.1,12.3 141.4,12.0 141.6,11.8 141.8,11.6 142.1,11.5 142.3,11.4 142.5,11.3 142.6,11.3 142.8,11.2 142.9,11.2 143.1,11.2 143.2,11.3 143.3,11.3 143.5,11.4 143.6,11.5 143.9,12.0 144.2,12.9 144.5,14.0 144.8,15.2 145.0,16.6 145.2,18.1 145.4,19.6 145.6,21.0 145.9,22.9 146.1,24.8 146.3,26.9 146.5,29.0 146.7,31.2 146.9,33.4 147.1,35.7 147.3,38.0 147.5,40.7 147.8,43.5 148.0,46.3 148.2,49.2 148.4,52.2 148.6,55.3 148.8,58.6 149.0,62.0 149.3,68.0 149.5,75.4 149.8,83.6 150.0,91.8 150.2,99.4 150.5,105.7 150.7,109.9 151.0,111.5 151.2,110.6 151.5,108.0 151.8,104.3 152.1,99.6 152.4,94.5 152.6,89.3 152.9,84.3 153.2,80.0 153.5,76.3 153.7,72.5 154.0,68.7 154.2,65.0 154.5,61.3 154.8,57.7 155.0,54.1 155.3,50.7 155.5,47.9 155.8,45.1 156.0,42.4 156.3,39.7 156.6,37.1 156.8,34.6 157.1,32.1 157.3,29.6 157.5,27.4 157.6,25.2 157.8,23.0 158.0,20.9 158.1,18.8 158.3,16.9 158.5,15.3 158.8,14.0 158.9,13.5 159.0,13.1 159.1,12.6 159.3,12.3 159.4,11.9 159.6,11.6 159.8,11.4 160.0,11.2 160.3,11.1 160.6,11.0 161.0,10.9 161.4,10.9 161.8,10.9 162.2,11.0 162.6,11.1 163.0,11.2 163.3,11.3 163.7,11.5 164.0,11.6 164.3,11.8 164.7,12.0 165.0,12.3 165.2,12.6 165.5,13.0 165.9,13.9 166.2,15.0 166.5,16.4 166.7,17.8 166.9,19.3 167.1,20.9 167.3,22.3 167.6,23.7 167.9,25.0 168.2,26.5 168.5,28.1 168.8,29.5 169.2,30.9 169.5,32.0 169.8,32.7 170.2,33.0 170.6,32.7 171.0,32.0 171.4,30.9 171.8,29.6 172.2,28.0 172.6,26.5 173.1,25.0 173.5,23.7 174.0,22.3 174.4,20.7 174.9,19.0 175.4,17.3 175.9,15.8 176.4,14.6 176.8,13.8 177.3,13.5 177.8,13.8 178.2,14.6 178.7,15.8 179.1,17.2 179.6,18.8 180.0,20.5 180.4,22.2 180.7,23.7 181.0,25.3 181.3,26.8 181.5,28.3 181.7,29.9 181.9,31.7 182.1,33.5 182.2,35.6 182.4,38.0 182.8,45.0 183.1,53.6 183.4,63.6 183.7,74.4 183.9,85.9 184.1,97.5 184.3,109.0 184.5,120.0 184.7,132.7 185.0,147.3 185.2,162.8 185.4,178.1 185.5,191.9 185.7,203.1 185.9,210.7 186.1,213.5 186.3,210.6 186.5,202.8 186.6,191.2 186.8,177.1 187.0,161.8 187.2,146.3 187.3,132.0 187.5,120.0 187.6,111.6 187.7,103.2 187.7,95.0 187.8,87.0 187.9,79.3 188.0,72.2 188.2,65.7 188.5,60.0 188.7,57.2 188.9,54.7 189.1,52.4 189.3,50.3 189.6,48.2 189.8,46.2 190.1,44.1 190.4,42.0 190.7,39.9 190.9,37.7 191.2,35.5 191.5,33.4 191.8,31.2 192.1,29.2 192.5,27.2 193.0,25.4 193.4,23.9 193.9,22.4 194.4,20.8 194.9,19.4 195.4,18.0 196.0,16.9 196.6,16.1 197.2,15.6 197.5,15.5 197.9,15.5 198.2,15.5 198.6,15.6 199.0,15.8 199.3,16.0 199.7,16.2 200.0,16.5 200.6,17.1 201.1,18.0 201.7,19.0 202.2,20.1 202.7,21.3 203.1,22.6 203.6,23.8 204.0,25.0 204.4,26.3 204.6,27.9 204.8,29.5 205.0,31.1 205.2,32.6 205.5,33.9 205.8,34.9 206.4,35.5 206.9,35.6 207.5,35.4 208.2,35.1 208.9,34.6 209.6,34.1 210.3,33.8 210.9,33.6 211.5,33.6 212.2,34.1 212.8,34.8 213.4,35.8 214.0,37.0 214.5,38.3 215.1,39.5 215.5,40.6 216.0,41.5 216.3,42.0 216.5,42.4 216.8,42.9 217.0,43.3 217.3,43.6 217.5,44.1 217.7,44.5 218.0,45.0 218.4,45.8 218.8,46.7 219.1,47.7 219.5,48.8 220.0,49.8 220.4,50.8 221.0,51.6 221.6,52.4 222.3,53.0 223.1,53.4 224.0,53.7 225.0,54.0 225.9,54.2 226.8,54.6 227.7,55.1 228.4,55.7 229.2,56.8 229.9,58.1 230.5,59.6 231.1,61.2 231.6,62.9 232.0,64.6 232.5,66.3 233.0,68.0 233.5,69.8 233.9,71.8 234.3,73.8 234.7,75.9 235.1,77.8 235.6,79.7 236.1,81.4 236.8,82.8 237.4,83.6 238.0,84.2 238.7,84.8 239.4,85.2 240.1,85.7 240.8,86.3 241.4,87.0 242.0,87.8 242.9,89.6 243.6,91.7 244.3,94.1 244.8,96.8 245.4,99.5 245.9,102.4 246.4,105.2 247.0,108.0 247.7,111.4 248.3,115.2 248.9,119.1 249.5,123.0 250.0,126.8 250.7,130.4 251.3,133.5 252.0,136.0 252.4,137.0 252.7,137.8 253.1,138.5 253.5,139.2 253.9,139.8 254.3,140.5 254.6,141.2 255.0,142.0 255.5,143.1 255.9,144.3 256.4,145.4 256.8,146.6 257.2,148.0 257.6,149.5 258.0,151.1 258.4,153.0 259.2,159.1 259.8,167.1 260.3,176.4 260.6,186.6 260.9,197.0 261.2,207.2 261.5,216.7 261.8,225.0 262.0,230.6 262.2,236.6 262.4,242.6 262.6,248.3 262.8,253.3 263.0,257.4 263.2,260.0 263.4,261.0 263.6,260.0 263.8,257.2 264.0,253.0 264.2,247.8 264.4,242.0 264.6,236.0 264.8,230.2 265.0,225.0 265.2,219.6 265.3,214.1 265.5,208.5 265.6,202.8 265.8,197.1 265.9,191.4 266.1,185.7 266.3,180.0 266.5,174.3 266.7,168.4 266.9,162.5 267.1,156.6 267.3,150.8 267.6,145.2 268.0,139.9 268.5,135.0 268.9,131.4 269.4,127.5 269.8,123.7 270.3,120.0 270.9,116.7 271.5,114.1 272.2,112.2 273.0,111.4 273.4,111.4 273.8,111.5 274.3,111.8 274.7,112.3 275.2,112.8 275.6,113.4 276.0,114.1 276.4,114.8 277.1,116.7 277.7,119.2 278.1,122.2 278.5,125.4 278.8,128.9 279.1,132.5 279.4,136.1 279.8,139.6 280.3,143.8 280.7,148.2 281.2,152.7 281.6,157.3 282.0,162.0 282.4,166.7 282.8,171.2 283.2,175.7 283.5,180.2 283.6,185.3 283.7,190.5 283.8,195.6 284.0,200.3 284.3,204.1 284.8,206.8 285.5,208.0 285.9,208.0 286.2,207.7 286.7,207.2 287.1,206.6 287.5,206.0 288.0,205.5 288.4,205.1 288.8,205.0 289.2,205.1 289.7,205.5 290.1,206.0 290.5,206.6 290.9,207.3 291.3,208.0 291.8,208.8 292.2,209.6 293.0,211.3 293.9,213.5 294.8,216.1 295.7,218.7 296.6,221.1 297.4,223.1 298.3,224.5 299.0,225.0 299.6,224.6 300.1,223.5 300.6,221.9 301.0,220.0 301.5,217.9 302.0,215.8 302.5,213.7 303.0,212.0 303.6,210.4 304.2,208.5 304.8,206.6 305.4,204.7 306.1,203.1 306.7,201.7 307.4,200.8 308.0,200.5 308.8,201.3 309.5,203.2 310.3,206.0 311.1,209.1 311.9,212.2 312.6,214.9 313.3,216.8 314.0,217.5 314.9,216.2 315.6,212.8 316.3,207.8 317.0,201.8 317.5,195.2 318.1,188.7 318.7,182.8 319.3,178.0 319.7,175.1 320.1,172.4 320.5,169.8 320.9,167.3 321.3,164.9 321.8,162.6 322.2,160.3 322.7,158.0 323.1,155.9 323.6,153.7 324.0,151.4 324.5,149.2 325.0,147.2 325.5,145.6 326.1,144.5 326.7,144.0 327.3,144.2 327.9,144.7 328.5,145.6 329.2,146.7 329.9,148.0 330.5,149.4 331.1,150.7 331.7,152.0 332.4,153.7 333.0,155.7 333.6,157.8 334.1,159.9 334.6,162.1 335.1,164.2 335.7,166.2 336.2,168.0 336.6,169.3 337.0,170.7 337.3,172.1 337.6,173.5 338.0,174.7 338.5,175.7 339.0,176.4 339.6,176.8 340.3,176.7 341.1,176.2 341.9,175.5 342.9,174.5 343.8,173.6 344.7,172.8 345.6,172.3 346.4,172.3 347.5,173.2 348.5,174.9 349.5,177.3 350.4,180.1 351.3,182.9 352.2,185.6 353.2,187.8 354.3,189.3 355.0,189.8 355.7,190.1 356.4,190.3 357.1,190.4 357.9,190.6 358.6,190.7 359.3,191.0 360.0,191.5 361.0,192.6 362.0,194.1 363.0,195.8 364.0,197.7 364.9,199.6 365.8,201.6 366.8,203.4 367.8,205.0 368.7,206.2 369.6,207.3 370.6,208.4 371.5,209.4 372.5,210.5 373.4,211.5 374.2,212.7 375.0,214.0 375.8,215.7 376.6,217.5 377.3,219.4 378.0,221.4 378.6,223.4 379.2,225.4 379.8,227.5 380.3,229.5 380.8,231.6 381.2,233.8 381.5,236.1 381.8,238.3 382.1,240.5 382.5,242.6 383.0,244.4 383.7,246.0 384.3,246.9 384.9,247.8 385.6,248.6 386.3,249.4 387.0,250.0 387.8,250.6 388.5,251.0 389.3,251.4 390.0,251.6 390.7,251.8 391.5,252.0 392.3,252.0 393.0,252.0 393.7,251.9 394.4,251.7 395.0,251.4 395.6,250.8 396.2,250.0 396.6,249.0 397.0,247.8 397.4,246.6 397.7,245.3 398.1,244.1 398.5,243.0 398.9,241.9 399.3,240.9 399.7,239.8 400.1,238.7 400.5,237.6 400.9,236.5 401.3,235.3 401.7,234.0 402.3,232.1 402.8,229.9 403.4,227.7 404.0,225.4 404.6,223.0 405.2,220.7 405.7,218.3 406.2,216.0 406.7,213.8 407.1,211.5 407.5,209.3 407.8,207.1 408.2,204.9 408.6,202.6 409.0,200.3 409.5,198.0 410.0,195.1 410.5,191.7 411.0,188.2 411.6,184.7 412.2,181.5 413.0,178.8 413.9,176.8 415.0,175.8 415.9,175.7 416.9,176.2 418.0,176.9 419.2,178.0 420.4,179.1 421.6,180.2 422.8,181.2 424.0,182.0 425.1,182.6 426.3,183.3 427.4,183.9 428.6,184.5 429.8,185.0 431.0,185.4 432.2,185.6 433.5,185.6 435.2,185.2 437.0,184.3 438.9,183.1 440.8,181.7 442.7,180.3 444.4,178.9 446.1,177.8 447.6,177.0 448.3,176.7 449.0,176.4 449.6,176.2 450.2,176.0 450.8,175.9 451.4,175.8 452.2,175.8 453.0,175.8 455.1,176.1 457.7,176.9 460.6,178.0 463.7,179.2 466.9,180.5 470.1,181.6 473.1,182.4 475.8,182.8 477.7,182.8 479.6,182.5 481.4,182.2 483.1,181.7 484.8,181.2 486.5,180.7 488.2,180.3 490.0,180.0 491.8,179.8 493.6,179.5 495.4,179.3 497.2,179.0 498.9,179.0 500.7,179.1 502.4,179.4 504.0,180.0 506.0,181.3 507.9,183.1 509.8,185.3 511.6,187.7 513.3,190.4 515.0,193.1 516.5,195.8 518.0,198.3 519.3,200.6 520.4,203.0 521.5,205.4 522.5,207.9 523.4,210.3 524.4,212.9 525.4,215.4 526.5,218.0 527.9,220.9 529.3,223.8 530.9,226.6 532.4,229.5 533.9,232.6 535.3,235.9 536.6,239.5 537.7,243.4 539.1,250.8 540.1,259.0 540.7,268.0 541.0,277.6 541.3,287.8 541.4,298.3 541.6,309.1 542.0,320.0 542.6,337.0 543.1,357.6 543.7,380.1 544.2,402.6 544.6,423.2 545.1,440.2 545.5,451.7 546.0,456.0 546.4,453.2 546.8,445.5 547.2,434.1 547.6,420.1 547.9,404.6 548.3,388.6 548.7,373.4 549.0,360.0 549.3,347.4 549.6,334.3 549.9,321.2 550.1,308.0 550.4,295.1 550.7,282.7 551.1,270.9 551.5,260.0 551.8,252.9 552.0,246.1 552.2,239.7 552.4,233.5 552.7,227.5 553.2,221.6 553.8,215.6 554.6,209.6 555.6,203.7 556.7,197.6 558.0,191.5 559.4,185.5 560.9,179.7 562.6,174.2 564.2,169.1 566.0,164.5 567.2,161.7 568.4,159.1 569.7,156.6 571.0,154.3 572.3,152.2 573.8,150.1 575.3,148.0 577.0,146.0 578.9,143.9 580.9,141.9 583.1,139.9 585.4,138.0 587.7,136.2 589.9,134.6 592.0,133.1 594.0,132.0 595.2,131.4 596.3,130.9 597.3,130.4 598.4,130.1 599.4,129.8 600.4,129.5 601.5,129.4 602.5,129.3 603.5,129.3 604.4,129.3 605.3,129.5 606.3,129.7 607.2,129.9 608.1,130.2 609.1,130.6 610.0,131.0 611.2,131.7 612.5,132.5 613.8,133.5 615.1,134.5 616.3,135.6 617.5,136.7 618.7,137.8 619.7,138.8 620.5,139.6 621.2,140.4 621.8,141.2 622.4,141.9 623.0,142.7 623.7,143.5 624.3,144.3 625.0,145.0 625.8,145.8 626.6,146.8 627.5,147.8 628.4,148.8 629.3,149.7 630.1,150.3 630.8,150.7 631.5,150.7 632.2,150.0 632.8,148.7 633.2,146.7 633.6,144.5 633.9,142.0 634.2,139.5 634.6,137.1 635.0,135.0 635.5,133.2 635.9,131.3 636.4,129.5 636.9,127.7 637.4,125.9 638.0,124.2 638.6,122.6 639.4,121.0 640.2,119.6 641.0,118.2 642.0,116.8 642.9,115.5 644.0,114.3 645.0,113.2 646.1,112.2 647.3,111.3 648.4,110.6 649.6,109.9 650.9,109.3 652.1,108.8 653.4,108.4 654.7,108.2 655.9,108.1 657.0,108.3 658.1,108.8 659.2,109.6 660.2,110.6 661.2,111.8 662.2,113.1 663.2,114.4 664.1,115.7 665.0,117.0 665.9,118.4 666.8,120.1 667.7,121.9 668.5,123.7 669.3,125.3 670.2,126.7 671.1,127.6 672.0,128.0 673.0,127.7 674.0,126.8 675.1,125.4 676.2,123.7 677.3,121.9 678.4,120.1 679.6,118.4 680.8,117.0 681.9,115.9 683.0,114.7 684.2,113.7 685.3,112.6 686.5,111.6 687.8,110.7 689.2,110.0 690.7,109.3 692.8,108.7 695.1,108.2 697.7,107.9 700.3,107.7 702.9,107.7 705.6,107.8 708.1,108.0 710.4,108.3 712.2,108.6 714.0,109.1 715.6,109.7 717.3,110.3 718.9,111.0 720.6,111.7 722.3,112.5 724.2,113.2 726.9,114.3 729.7,115.5 732.7,116.7 735.7,118.1 738.8,119.4 741.9,120.6 744.9,121.7 747.8,122.7 750.3,123.4 752.9,124.2 755.4,124.8 757.9,125.4 760.3,125.9 762.8,126.3 765.2,126.5 767.5,126.6 769.6,126.5 771.7,126.2 773.7,125.7 775.7,125.2 777.7,124.7 779.7,124.1 781.5,123.5 783.3,123.0 784.6,122.7 785.9,122.3 787.1,122.0 788.3,121.7 789.5,121.4 790.7,121.0 791.9,120.5 793.2,120.0 795.0,119.2 797.0,118.2 799.0,117.1 801.1,115.9 803.1,114.7 805.1,113.5 807.1,112.4 809.0,111.3 810.5,110.4 812.0,109.4 813.4,108.4 814.8,107.4 816.3,106.4 817.7,105.6 819.2,104.9 820.8,104.4 822.6,104.1 824.5,104.0 826.5,104.1 828.5,104.4 830.6,104.6 832.6,104.9 834.6,105.0 836.5,105.0 838.2,104.8 839.9,104.6 841.5,104.2 843.2,103.9 844.8,103.5 846.5,103.2 848.2,103.0 850.0,103.0 852.4,103.1 854.9,103.4 857.6,103.8 860.2,104.3 862.9,104.9 865.5,105.5 867.8,106.2 870.0,107.0 871.5,107.6 872.8,108.2 874.1,108.8 875.3,109.5 876.5,110.2 877.7,111.1 878.8,112.0 880.0,113.0 881.6,114.6 883.1,116.4 884.6,118.5 886.1,120.7 887.6,122.9 889.1,125.1 890.6,127.1 892.0,129.0 893.1,130.5 894.2,132.1 895.3,133.8 896.4,135.3 897.4,136.7 898.6,137.9 899.7,138.7 901.0,139.0 902.7,138.7 904.5,137.8 906.4,136.3 908.3,134.4 910.3,132.3 912.3,130.1 914.2,128.0 916.0,126.0 917.8,124.0 919.6,121.8 921.4,119.6 923.1,117.3 924.8,115.0 926.5,112.9 928.2,110.8 930.0,109.0 931.5,107.7 932.9,106.4 934.4,105.3 935.9,104.3 937.3,103.2 938.9,102.2 940.4,101.1 942.0,100.0 943.9,98.6 945.9,97.2 947.9,95.7 949.9,94.2 952.0,92.8 954.0,91.4 956.1,90.1 958.0,89.0 959.5,88.2 961.0,87.4 962.4,86.7 963.8,86.0 965.3,85.4 966.8,84.9 968.3,84.4 970.0,84.0 972.2,83.6 974.6,83.3 977.1,83.1 979.7,83.0 982.3,83.0 985.0,83.0 987.5,83.0 990.0,83.0 992.3,83.0 994.6,83.1 996.9,83.2 999.1,83.3 1001.3,83.4 1003.5,83.5 1005.6,83.7 1007.6,83.8 1009.2,83.9 1010.7,84.1 1012.1,84.2 1013.5,84.4 1014.9,84.5 1016.3,84.6 1017.7,84.7 1019.0,84.7 1020.2,84.7 1021.3,84.6 1022.4,84.4 1023.5,84.3 1024.6,84.1 1025.7,84.0 1026.8,83.9 1027.9,83.8 1029.1,83.8 1030.4,83.7 1031.6,83.7 1032.9,83.7 1034.2,83.7 1035.5,83.8 1036.7,83.9 1038.0,84.0 1039.3,84.2 1040.5,84.3 1041.7,84.5 1043.0,84.8 1044.2,85.0 1045.5,85.3 1046.7,85.6 1048.0,86.0 1049.4,86.4 1050.9,86.9 1052.3,87.4 1053.8,87.9 1055.3,88.5 1056.7,89.1 1058.2,89.8 1059.6,90.4 1061.1,91.1 1062.5,91.8 1064.0,92.6 1065.4,93.4 1066.8,94.2 1068.2,95.0 1069.6,95.9 1071.0,96.7 1072.3,97.5 1073.6,98.4 1074.9,99.2 1076.2,100.1 1077.4,101.0 1078.6,101.9 1079.8,102.8 1081.0,103.7 1082.0,104.6 1083.0,105.4 1083.9,106.3 1084.8,107.2 1085.8,108.1 1086.7,109.0 1087.7,109.9 1088.7,110.7 1089.9,111.6 1091.1,112.4 1092.3,113.2 1093.6,114.0 1094.9,114.7 1096.2,115.5 1097.5,116.3 1098.8,117.0 1100.2,117.7 1101.5,118.5 1102.9,119.1 1104.3,119.8 1105.8,120.5 1107.2,121.2 1108.7,121.9 1110.2,122.7 1112.0,123.7 1113.9,124.6 1115.7,125.7 1117.7,126.7 1119.6,127.8 1121.6,128.9 1123.5,130.0 1125.4,131.0" stroke="#808080" stroke-width="3" stroke-dasharray="21 12 0.01 12" stroke-linecap="round"/>
</g>
<text x="1183.8" y="55.7" style="font-family:'Liberation Serif',serif;font-size:32.7px;fill:#000">Simulation</text>
<line x1="1144.3" y1="44.7" x2="1181" y2="44.7" stroke="#000" stroke-width="3.4"/>
<text x="1183.8" y="176.6" style="font-family:'Liberation Serif',serif;font-size:32.7px;fill:#000">front inductor</text>
<text x="1183.8" y="214.4" style="font-family:'Liberation Serif',serif;font-size:32.7px;fill:#000">layer moved</text>
<text x="1183.8" y="252.2" style="font-family:'Liberation Serif',serif;font-size:32.7px;fill:#000">right</text>
<line x1="1145.75" y1="165.9" x2="1151.75" y2="165.9" stroke="#e00000" stroke-width="3" stroke-linecap="round"/>
<line x1="1158.25" y1="165.9" x2="1164.25" y2="165.9" stroke="#e00000" stroke-width="3" stroke-linecap="round"/>
<line x1="1170.75" y1="165.9" x2="1176.75" y2="165.9" stroke="#e00000" stroke-width="3" stroke-linecap="round"/>
<text x="1183.8" y="298.7" style="font-family:'Liberation Serif',serif;font-size:32.7px;fill:#000">front inductor</text>
<text x="1183.8" y="336.2" style="font-family:'Liberation Serif',serif;font-size:32.7px;fill:#000">layer moved up</text>
<line x1="1145.75" y1="288.2" x2="1154.9" y2="288.2" stroke="#0062b0" stroke-width="3" stroke-linecap="round"/>
<circle cx="1167.3" cy="288.2" r="1.6" fill="#0a5a9c"/>
<circle cx="1179.6" cy="288.2" r="1.6" fill="#0a5a9c"/>
<text x="1183.8" y="420.2" style="font-family:'Liberation Serif',serif;font-size:32.7px;fill:#000">front inductor</text>
<text x="1183.8" y="457.8" style="font-family:'Liberation Serif',serif;font-size:32.7px;fill:#000">layer moved left</text>
<circle cx="1145.70" cy="409.4" r="1.6" fill="#466128"/>
<circle cx="1151.88" cy="409.4" r="1.6" fill="#466128"/>
<circle cx="1158.06" cy="409.4" r="1.6" fill="#466128"/>
<circle cx="1164.24" cy="409.4" r="1.6" fill="#466128"/>
<circle cx="1170.42" cy="409.4" r="1.6" fill="#466128"/>
<circle cx="1176.60" cy="409.4" r="1.6" fill="#466128"/>
<text x="1183.8" y="540.6" style="font-family:'Liberation Serif',serif;font-size:32.7px;fill:#000">Gnd layer move</text>
<text x="1183.8" y="578.4" style="font-family:'Liberation Serif',serif;font-size:32.7px;fill:#000">left and right</text>
<line x1="1145.75" y1="530.6" x2="1167.2" y2="530.6" stroke="#7a7a7a" stroke-width="3" stroke-linecap="round"/>
<circle cx="1179.6" cy="530.6" r="1.5" fill="#7f7f7f"/>
</svg>
</body></html>
